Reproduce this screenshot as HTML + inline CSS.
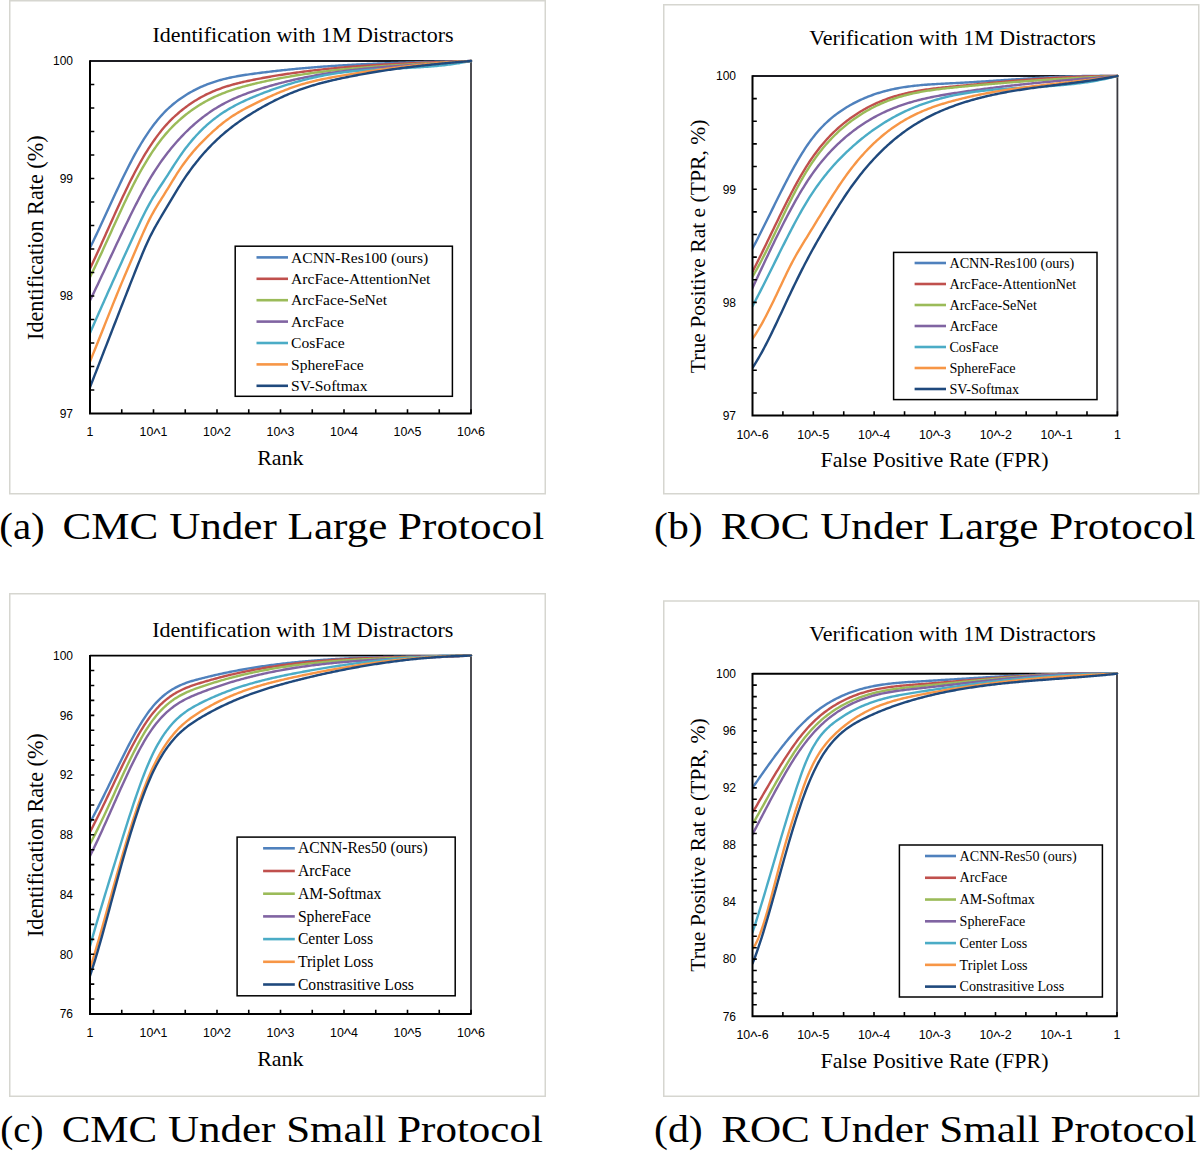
<!DOCTYPE html><html><head><meta charset="utf-8"><style>html,body{margin:0;padding:0;background:#fff;}svg{display:block;}</style></head><body>
<svg width="1200" height="1151" viewBox="0 0 1200 1151">
<rect width="1200" height="1151" fill="#fff"/>
<rect x="9.75" y="0.75" width="535.5" height="493" fill="none" stroke="#d6d6d0" stroke-width="1.5"/>
<text x="152.4" y="42.1" font-family='"Liberation Serif", serif' font-size="22" fill="#000">Identification with 1M Distractors</text>
<path d="M90 61H471" fill="none" stroke="#1c1c22" stroke-width="1.9"/>
<path d="M471 61V413.5" fill="none" stroke="#3a3a40" stroke-width="1.8"/>
<clipPath id="clipa"><rect x="90" y="59" width="383" height="354.5"/></clipPath>
<g clip-path="url(#clipa)" fill="none" stroke-width="2.4" stroke-linejoin="round" stroke-linecap="round">
<path d="M90,247.81 91.5,244.75 93,241.66 94.5,238.54 96,235.39 97.5,232.21 99,229.01 100.5,225.8 102,222.57 103.5,219.32 105,216.07 106.5,212.81 108,209.55 109.5,206.29 111,203.04 112.5,199.79 114,196.55 115.5,193.33 117,190.13 118.5,186.94 120,183.78 121.5,180.64 123,177.54 124.5,174.47 126,171.43 127.5,168.44 129,165.48 130.5,162.58 132,159.72 133.5,156.92 135,154.17 136.5,151.48 138,148.85 139.5,146.28 141,143.76 142.5,141.31 144,138.92 145.5,136.59 147,134.31 148.5,132.1 150,129.94 151.5,127.85 153,125.81 154.5,123.84 156,121.92 157.5,120.06 159,118.27 160.5,116.53 162,114.86 163.5,113.24 165,111.69 166.5,110.19 168,108.75 169.5,107.37 171,106.04 172.5,104.76 174,103.52 175.5,102.33 177,101.17 178.5,100.06 180,98.98 181.5,97.93 183,96.91 184.5,95.93 186,94.97 187.5,94.05 189,93.15 190.5,92.29 192,91.45 193.5,90.63 195,89.85 196.5,89.09 198,88.35 199.5,87.65 201,86.96 202.5,86.3 204,85.66 205.5,85.05 207,84.45 208.5,83.88 210,83.33 211.5,82.8 213,82.29 214.5,81.8 216,81.32 217.5,80.87 219,80.43 220.5,80.01 222,79.6 223.5,79.21 225,78.84 226.5,78.48 228,78.13 229.5,77.79 231,77.47 232.5,77.16 234,76.86 235.5,76.58 237,76.3 238.5,76.03 240,75.77 241.5,75.52 243,75.28 244.5,75.04 246,74.81 247.5,74.59 249,74.37 250.5,74.16 252,73.95 253.5,73.74 255,73.54 256.5,73.34 258,73.14 259.5,72.95 261,72.75 262.5,72.56 264,72.37 265.5,72.19 267,72 268.5,71.82 270,71.64 271.5,71.47 273,71.29 274.5,71.12 276,70.95 277.5,70.78 279,70.62 280.5,70.45 282,70.29 283.5,70.13 285,69.97 286.5,69.82 288,69.67 289.5,69.52 291,69.37 292.5,69.22 294,69.07 295.5,68.93 297,68.79 298.5,68.65 300,68.51 301.5,68.38 303,68.24 304.5,68.11 306,67.98 307.5,67.85 309,67.73 310.5,67.6 312,67.48 313.5,67.36 315,67.24 316.5,67.12 318,67.01 319.5,66.89 321,66.78 322.5,66.67 324,66.56 325.5,66.45 327,66.35 328.5,66.24 330,66.14 331.5,66.04 333,65.94 334.5,65.84 336,65.74 337.5,65.65 339,65.55 340.5,65.46 342,65.37 343.5,65.28 345,65.19 346.5,65.11 348,65.02 349.5,64.94 351,64.85 352.5,64.77 354,64.69 355.5,64.61 357,64.54 358.5,64.46 360,64.39 361.5,64.31 363,64.24 364.5,64.17 366,64.1 367.5,64.03 369,63.96 370.5,63.89 372,63.83 373.5,63.76 375,63.7 376.5,63.64 378,63.57 379.5,63.51 381,63.45 382.5,63.39 384,63.34 385.5,63.28 387,63.22 388.5,63.17 390,63.11 391.5,63.06 393,63.01 394.5,62.96 396,62.9 397.5,62.85 399,62.81 400.5,62.76 402,62.71 403.5,62.66 405,62.62 406.5,62.57 408,62.52 409.5,62.48 411,62.44 412.5,62.39 414,62.35 415.5,62.31 417,62.27 418.5,62.23 420,62.18 421.5,62.15 423,62.11 424.5,62.07 426,62.03 427.5,61.99 429,61.95 430.5,61.92 432,61.88 433.5,61.84 435,61.81 436.5,61.77 438,61.73 439.5,61.7 441,61.66 442.5,61.63 444,61.6 445.5,61.56 447,61.53 448.5,61.49 450,61.46 451.5,61.43 453,61.39 454.5,61.36 456,61.33 457.5,61.3 459,61.26 460.5,61.23 462,61.2 463.5,61.16 465,61.13 466.5,61.1 468,61.07 469.5,61.03 471,61" stroke="#4F81BD"/>
<path d="M90,268.61 91.5,265.44 93,262.25 94.5,259.02 96,255.77 97.5,252.5 99,249.21 100.5,245.9 102,242.58 103.5,239.24 105,235.9 106.5,232.56 108,229.21 109.5,225.87 111,222.53 112.5,219.19 114,215.87 115.5,212.56 117,209.27 118.5,205.99 120,202.74 121.5,199.51 123,196.31 124.5,193.14 126,190 127.5,186.9 129,183.84 130.5,180.82 132,177.85 133.5,174.93 135,172.06 136.5,169.24 138,166.48 139.5,163.77 141,161.12 142.5,158.52 144,155.98 145.5,153.49 147,151.06 148.5,148.68 150,146.37 151.5,144.1 153,141.9 154.5,139.75 156,137.66 157.5,135.63 159,133.65 160.5,131.73 162,129.87 163.5,128.07 165,126.32 166.5,124.64 168,123.01 169.5,121.43 171,119.91 172.5,118.43 174,117 175.5,115.62 177,114.27 178.5,112.97 180,111.7 181.5,110.47 183,109.27 184.5,108.11 186,106.97 187.5,105.87 189,104.8 190.5,103.76 192,102.76 193.5,101.78 195,100.83 196.5,99.91 198,99.01 199.5,98.15 201,97.31 202.5,96.49 204,95.7 205.5,94.94 207,94.2 208.5,93.48 210,92.79 211.5,92.12 213,91.47 214.5,90.84 216,90.23 217.5,89.64 219,89.07 220.5,88.51 222,87.98 223.5,87.46 225,86.96 226.5,86.48 228,86.01 229.5,85.55 231,85.11 232.5,84.69 234,84.27 235.5,83.87 237,83.48 238.5,83.1 240,82.73 241.5,82.38 243,82.03 244.5,81.69 246,81.35 247.5,81.03 249,80.71 250.5,80.4 252,80.09 253.5,79.79 255,79.49 256.5,79.19 258,78.9 259.5,78.62 261,78.33 262.5,78.05 264,77.77 265.5,77.5 267,77.23 268.5,76.97 270,76.7 271.5,76.44 273,76.19 274.5,75.93 276,75.68 277.5,75.44 279,75.19 280.5,74.95 282,74.72 283.5,74.48 285,74.25 286.5,74.03 288,73.8 289.5,73.58 291,73.36 292.5,73.15 294,72.93 295.5,72.73 297,72.52 298.5,72.32 300,72.11 301.5,71.92 303,71.72 304.5,71.53 306,71.34 307.5,71.15 309,70.97 310.5,70.79 312,70.61 313.5,70.43 315,70.26 316.5,70.09 318,69.92 319.5,69.75 321,69.59 322.5,69.43 324,69.27 325.5,69.11 327,68.96 328.5,68.8 330,68.65 331.5,68.51 333,68.36 334.5,68.22 336,68.08 337.5,67.94 339,67.8 340.5,67.67 342,67.54 343.5,67.41 345,67.28 346.5,67.15 348,67.03 349.5,66.91 351,66.79 352.5,66.67 354,66.55 355.5,66.44 357,66.32 358.5,66.21 360,66.1 361.5,66 363,65.89 364.5,65.79 366,65.68 367.5,65.58 369,65.48 370.5,65.39 372,65.29 373.5,65.2 375,65.1 376.5,65.01 378,64.92 379.5,64.83 381,64.75 382.5,64.66 384,64.57 385.5,64.49 387,64.41 388.5,64.33 390,64.25 391.5,64.17 393,64.09 394.5,64.02 396,63.94 397.5,63.87 399,63.79 400.5,63.72 402,63.65 403.5,63.58 405,63.51 406.5,63.45 408,63.38 409.5,63.31 411,63.25 412.5,63.18 414,63.12 415.5,63.05 417,62.99 418.5,62.93 420,62.87 421.5,62.81 423,62.75 424.5,62.69 426,62.63 427.5,62.57 429,62.52 430.5,62.46 432,62.4 433.5,62.35 435,62.29 436.5,62.24 438,62.18 439.5,62.13 441,62.07 442.5,62.02 444,61.96 445.5,61.91 447,61.86 448.5,61.8 450,61.75 451.5,61.7 453,61.64 454.5,61.59 456,61.54 457.5,61.48 459,61.43 460.5,61.38 462,61.33 463.5,61.27 465,61.22 466.5,61.17 468,61.11 469.5,61.06 471,61" stroke="#C0504D"/>
<path d="M90,277.11 91.5,274.07 93,270.99 94.5,267.88 96,264.73 97.5,261.56 99,258.35 100.5,255.13 102,251.88 103.5,248.61 105,245.33 106.5,242.04 108,238.74 109.5,235.44 111,232.13 112.5,228.83 114,225.53 115.5,222.24 117,218.96 118.5,215.69 120,212.44 121.5,209.21 123,206.01 124.5,202.83 126,199.68 127.5,196.57 129,193.49 130.5,190.45 132,187.45 133.5,184.5 135,181.6 136.5,178.75 138,175.96 139.5,173.21 141,170.52 142.5,167.88 144,165.3 145.5,162.77 147,160.29 148.5,157.87 150,155.5 151.5,153.18 153,150.93 154.5,148.72 156,146.58 157.5,144.49 159,142.45 160.5,140.47 162,138.55 163.5,136.69 165,134.88 166.5,133.13 168,131.44 169.5,129.79 171,128.2 172.5,126.66 174,125.16 175.5,123.71 177,122.29 178.5,120.92 180,119.58 181.5,118.28 183,117 184.5,115.76 186,114.56 187.5,113.38 189,112.24 190.5,111.12 192,110.04 193.5,108.98 195,107.96 196.5,106.96 198,105.99 199.5,105.04 201,104.12 202.5,103.23 204,102.36 205.5,101.52 207,100.7 208.5,99.9 210,99.13 211.5,98.38 213,97.65 214.5,96.94 216,96.25 217.5,95.58 219,94.94 220.5,94.31 222,93.69 223.5,93.1 225,92.52 226.5,91.96 228,91.41 229.5,90.88 231,90.37 232.5,89.87 234,89.38 235.5,88.9 237,88.44 238.5,87.99 240,87.55 241.5,87.12 243,86.7 244.5,86.29 246,85.89 247.5,85.49 249,85.11 250.5,84.73 252,84.36 253.5,83.99 255,83.63 256.5,83.27 258,82.92 259.5,82.57 261,82.23 262.5,81.89 264,81.56 265.5,81.23 267,80.91 268.5,80.59 270,80.27 271.5,79.96 273,79.66 274.5,79.35 276,79.06 277.5,78.76 279,78.47 280.5,78.19 282,77.9 283.5,77.63 285,77.35 286.5,77.08 288,76.82 289.5,76.56 291,76.3 292.5,76.04 294,75.79 295.5,75.55 297,75.3 298.5,75.06 300,74.83 301.5,74.59 303,74.36 304.5,74.14 306,73.92 307.5,73.7 309,73.48 310.5,73.27 312,73.06 313.5,72.86 315,72.65 316.5,72.45 318,72.26 319.5,72.06 321,71.87 322.5,71.69 324,71.5 325.5,71.32 327,71.14 328.5,70.96 330,70.79 331.5,70.62 333,70.45 334.5,70.29 336,70.12 337.5,69.96 339,69.81 340.5,69.65 342,69.5 343.5,69.35 345,69.2 346.5,69.05 348,68.91 349.5,68.77 351,68.63 352.5,68.49 354,68.36 355.5,68.23 357,68.1 358.5,67.97 360,67.84 361.5,67.72 363,67.59 364.5,67.47 366,67.35 367.5,67.24 369,67.12 370.5,67 372,66.89 373.5,66.78 375,66.67 376.5,66.56 378,66.46 379.5,66.35 381,66.25 382.5,66.15 384,66.04 385.5,65.94 387,65.85 388.5,65.75 390,65.65 391.5,65.56 393,65.46 394.5,65.37 396,65.28 397.5,65.19 399,65.1 400.5,65.01 402,64.92 403.5,64.83 405,64.74 406.5,64.66 408,64.57 409.5,64.48 411,64.4 412.5,64.32 414,64.23 415.5,64.15 417,64.07 418.5,63.98 420,63.9 421.5,63.82 423,63.74 424.5,63.65 426,63.57 427.5,63.49 429,63.41 430.5,63.33 432,63.25 433.5,63.17 435,63.09 436.5,63 438,62.92 439.5,62.84 441,62.76 442.5,62.68 444,62.59 445.5,62.51 447,62.43 448.5,62.34 450,62.26 451.5,62.17 453,62.09 454.5,62 456,61.92 457.5,61.83 459,61.74 460.5,61.65 462,61.56 463.5,61.47 465,61.38 466.5,61.29 468,61.19 469.5,61.1 471,61" stroke="#9BBB59"/>
<path d="M90,300.6 91.5,297.49 93,294.36 94.5,291.22 96,288.06 97.5,284.9 99,281.72 100.5,278.53 102,275.34 103.5,272.14 105,268.94 106.5,265.73 108,262.53 109.5,259.32 111,256.12 112.5,252.91 114,249.72 115.5,246.53 117,243.35 118.5,240.17 120,237.01 121.5,233.86 123,230.73 124.5,227.61 126,224.5 127.5,221.42 129,218.35 130.5,215.31 132,212.29 133.5,209.29 135,206.32 136.5,203.38 138,200.46 139.5,197.59 141,194.75 142.5,191.94 144,189.19 145.5,186.48 147,183.82 148.5,181.21 150,178.66 151.5,176.18 153,173.75 154.5,171.37 156,169.05 157.5,166.79 159,164.58 160.5,162.41 162,160.3 163.5,158.23 165,156.21 166.5,154.23 168,152.3 169.5,150.4 171,148.55 172.5,146.74 174,144.96 175.5,143.22 177,141.52 178.5,139.85 180,138.22 181.5,136.62 183,135.06 184.5,133.52 186,132.02 187.5,130.55 189,129.11 190.5,127.71 192,126.33 193.5,124.99 195,123.67 196.5,122.38 198,121.13 199.5,119.9 201,118.7 202.5,117.52 204,116.38 205.5,115.26 207,114.17 208.5,113.11 210,112.07 211.5,111.05 213,110.07 214.5,109.1 216,108.16 217.5,107.25 219,106.36 220.5,105.49 222,104.65 223.5,103.83 225,103.03 226.5,102.25 228,101.49 229.5,100.75 231,100.04 232.5,99.34 234,98.66 235.5,97.99 237,97.35 238.5,96.72 240,96.1 241.5,95.5 243,94.91 244.5,94.34 246,93.77 247.5,93.22 249,92.68 250.5,92.15 252,91.63 253.5,91.12 255,90.61 256.5,90.12 258,89.63 259.5,89.14 261,88.66 262.5,88.19 264,87.73 265.5,87.27 267,86.82 268.5,86.38 270,85.94 271.5,85.51 273,85.09 274.5,84.67 276,84.26 277.5,83.85 279,83.45 280.5,83.06 282,82.67 283.5,82.29 285,81.91 286.5,81.54 288,81.18 289.5,80.82 291,80.47 292.5,80.12 294,79.78 295.5,79.44 297,79.11 298.5,78.78 300,78.46 301.5,78.15 303,77.84 304.5,77.53 306,77.23 307.5,76.94 309,76.65 310.5,76.36 312,76.08 313.5,75.81 315,75.53 316.5,75.27 318,75.01 319.5,74.75 321,74.49 322.5,74.25 324,74 325.5,73.76 327,73.52 328.5,73.29 330,73.06 331.5,72.84 333,72.62 334.5,72.4 336,72.19 337.5,71.98 339,71.78 340.5,71.58 342,71.38 343.5,71.18 345,70.99 346.5,70.81 348,70.62 349.5,70.44 351,70.26 352.5,70.09 354,69.92 355.5,69.75 357,69.58 358.5,69.42 360,69.26 361.5,69.1 363,68.95 364.5,68.8 366,68.65 367.5,68.5 369,68.36 370.5,68.22 372,68.08 373.5,67.94 375,67.8 376.5,67.67 378,67.54 379.5,67.41 381,67.28 382.5,67.16 384,67.04 385.5,66.92 387,66.8 388.5,66.68 390,66.56 391.5,66.45 393,66.34 394.5,66.22 396,66.11 397.5,66 399,65.9 400.5,65.79 402,65.69 403.5,65.58 405,65.48 406.5,65.38 408,65.27 409.5,65.17 411,65.07 412.5,64.97 414,64.88 415.5,64.78 417,64.68 418.5,64.58 420,64.49 421.5,64.39 423,64.29 424.5,64.2 426,64.1 427.5,64.01 429,63.91 430.5,63.82 432,63.72 433.5,63.63 435,63.53 436.5,63.43 438,63.34 439.5,63.24 441,63.14 442.5,63.05 444,62.95 445.5,62.85 447,62.75 448.5,62.65 450,62.55 451.5,62.44 453,62.34 454.5,62.24 456,62.13 457.5,62.02 459,61.92 460.5,61.81 462,61.7 463.5,61.59 465,61.47 466.5,61.36 468,61.24 469.5,61.13 471,61.01" stroke="#8064A2"/>
<path d="M90,333 91.5,329.59 93,326.18 94.5,322.77 96,319.37 97.5,315.97 99,312.58 100.5,309.2 102,305.81 103.5,302.44 105,299.07 106.5,295.71 108,292.35 109.5,289 111,285.65 112.5,282.31 114,278.98 115.5,275.65 117,272.33 118.5,269.02 120,265.71 121.5,262.41 123,259.12 124.5,255.84 126,252.56 127.5,249.29 129,246.03 130.5,242.78 132,239.53 133.5,236.3 135,233.07 136.5,229.85 138,226.65 139.5,223.48 141,220.34 142.5,217.26 144,214.22 145.5,211.26 147,208.37 148.5,205.56 150,202.85 151.5,200.24 153,197.72 154.5,195.27 156,192.89 157.5,190.56 159,188.27 160.5,186 162,183.74 163.5,181.47 165,179.19 166.5,176.88 168,174.55 169.5,172.2 171,169.85 172.5,167.5 174,165.16 175.5,162.85 177,160.56 178.5,158.31 180,156.11 181.5,153.96 183,151.87 184.5,149.83 186,147.84 187.5,145.9 189,144.01 190.5,142.18 192,140.39 193.5,138.65 195,136.95 196.5,135.31 198,133.7 199.5,132.14 201,130.63 202.5,129.15 204,127.71 205.5,126.32 207,124.96 208.5,123.65 210,122.37 211.5,121.12 213,119.91 214.5,118.73 216,117.59 217.5,116.48 219,115.4 220.5,114.35 222,113.33 223.5,112.34 225,111.37 226.5,110.44 228,109.52 229.5,108.63 231,107.77 232.5,106.93 234,106.11 235.5,105.3 237,104.52 238.5,103.76 240,103.02 241.5,102.29 243,101.58 244.5,100.88 246,100.19 247.5,99.52 249,98.86 250.5,98.21 252,97.58 253.5,96.95 255,96.32 256.5,95.71 258,95.1 259.5,94.5 261,93.91 262.5,93.32 264,92.74 265.5,92.17 267,91.61 268.5,91.05 270,90.5 271.5,89.95 273,89.42 274.5,88.89 276,88.36 277.5,87.85 279,87.34 280.5,86.84 282,86.35 283.5,85.86 285,85.38 286.5,84.91 288,84.44 289.5,83.98 291,83.53 292.5,83.09 294,82.65 295.5,82.22 297,81.8 298.5,81.38 300,80.97 301.5,80.57 303,80.18 304.5,79.79 306,79.42 307.5,79.04 309,78.68 310.5,78.32 312,77.97 313.5,77.63 315,77.29 316.5,76.97 318,76.64 319.5,76.33 321,76.03 322.5,75.73 324,75.43 325.5,75.15 327,74.87 328.5,74.6 330,74.34 331.5,74.09 333,73.84 334.5,73.6 336,73.37 337.5,73.14 339,72.92 340.5,72.71 342,72.51 343.5,72.32 345,72.13 346.5,71.94 348,71.77 349.5,71.6 351,71.44 352.5,71.28 354,71.13 355.5,70.98 357,70.84 358.5,70.71 360,70.58 361.5,70.45 363,70.33 364.5,70.21 366,70.1 367.5,69.99 369,69.89 370.5,69.79 372,69.69 373.5,69.6 375,69.51 376.5,69.42 378,69.33 379.5,69.25 381,69.17 382.5,69.09 384,69.01 385.5,68.94 387,68.86 388.5,68.79 390,68.72 391.5,68.65 393,68.58 394.5,68.51 396,68.44 397.5,68.37 399,68.3 400.5,68.23 402,68.16 403.5,68.09 405,68.02 406.5,67.95 408,67.87 409.5,67.8 411,67.72 412.5,67.64 414,67.56 415.5,67.48 417,67.39 418.5,67.3 420,67.21 421.5,67.12 423,67.02 424.5,66.92 426,66.81 427.5,66.7 429,66.59 430.5,66.47 432,66.35 433.5,66.23 435,66.1 436.5,65.96 438,65.82 439.5,65.67 441,65.52 442.5,65.36 444,65.2 445.5,65.03 447,64.85 448.5,64.67 450,64.48 451.5,64.28 453,64.08 454.5,63.87 456,63.65 457.5,63.42 459,63.19 460.5,62.94 462,62.69 463.5,62.43 465,62.16 466.5,61.89 468,61.6 469.5,61.3 471,61" stroke="#4BACC6"/>
<path d="M90,361.5 91.5,357.85 93,354.17 94.5,350.47 96,346.74 97.5,343 99,339.25 100.5,335.49 102,331.71 103.5,327.94 105,324.16 106.5,320.39 108,316.61 109.5,312.85 111,309.1 112.5,305.36 114,301.64 115.5,297.94 117,294.27 118.5,290.62 120,287 121.5,283.41 123,279.85 124.5,276.31 126,272.79 127.5,269.29 129,265.79 130.5,262.3 132,258.81 133.5,255.31 135,251.8 136.5,248.29 138,244.77 139.5,241.26 141,237.79 142.5,234.36 144,230.99 145.5,227.7 147,224.49 148.5,221.39 150,218.41 151.5,215.55 153,212.81 154.5,210.18 156,207.62 157.5,205.14 159,202.7 160.5,200.3 162,197.92 163.5,195.54 165,193.15 166.5,190.73 168,188.29 169.5,185.83 171,183.38 172.5,180.93 174,178.5 175.5,176.09 177,173.72 178.5,171.4 180,169.13 181.5,166.92 183,164.78 184.5,162.7 186,160.67 187.5,158.7 189,156.79 190.5,154.92 192,153.11 193.5,151.34 195,149.61 196.5,147.92 198,146.28 199.5,144.67 201,143.1 202.5,141.55 204,140.04 205.5,138.56 207,137.1 208.5,135.67 210,134.25 211.5,132.86 213,131.48 214.5,130.13 216,128.8 217.5,127.49 219,126.21 220.5,124.96 222,123.74 223.5,122.55 225,121.39 226.5,120.27 228,119.18 229.5,118.12 231,117.1 232.5,116.1 234,115.13 235.5,114.18 237,113.26 238.5,112.36 240,111.49 241.5,110.63 243,109.79 244.5,108.97 246,108.17 247.5,107.37 249,106.6 250.5,105.83 252,105.07 253.5,104.32 255,103.58 256.5,102.84 258,102.11 259.5,101.38 261,100.66 262.5,99.95 264,99.24 265.5,98.54 267,97.84 268.5,97.16 270,96.48 271.5,95.81 273,95.14 274.5,94.49 276,93.84 277.5,93.21 279,92.58 280.5,91.96 282,91.35 283.5,90.76 285,90.17 286.5,89.59 288,89.03 289.5,88.47 291,87.93 292.5,87.39 294,86.87 295.5,86.37 297,85.87 298.5,85.39 300,84.92 301.5,84.46 303,84.02 304.5,83.58 306,83.16 307.5,82.76 309,82.36 310.5,81.97 312,81.6 313.5,81.23 315,80.87 316.5,80.53 318,80.19 319.5,79.86 321,79.53 322.5,79.22 324,78.91 325.5,78.61 327,78.31 328.5,78.02 330,77.73 331.5,77.45 333,77.17 334.5,76.9 336,76.63 337.5,76.37 339,76.1 340.5,75.84 342,75.58 343.5,75.32 345,75.07 346.5,74.81 348,74.56 349.5,74.31 351,74.07 352.5,73.82 354,73.58 355.5,73.33 357,73.09 358.5,72.86 360,72.62 361.5,72.39 363,72.16 364.5,71.93 366,71.7 367.5,71.47 369,71.25 370.5,71.03 372,70.81 373.5,70.59 375,70.37 376.5,70.16 378,69.95 379.5,69.74 381,69.53 382.5,69.32 384,69.12 385.5,68.92 387,68.72 388.5,68.52 390,68.33 391.5,68.14 393,67.94 394.5,67.76 396,67.57 397.5,67.38 399,67.2 400.5,67.02 402,66.84 403.5,66.67 405,66.49 406.5,66.32 408,66.15 409.5,65.98 411,65.82 412.5,65.65 414,65.49 415.5,65.33 417,65.18 418.5,65.02 420,64.87 421.5,64.72 423,64.57 424.5,64.42 426,64.28 427.5,64.14 429,64 430.5,63.86 432,63.73 433.5,63.59 435,63.46 436.5,63.33 438,63.21 439.5,63.08 441,62.96 442.5,62.84 444,62.73 445.5,62.61 447,62.5 448.5,62.39 450,62.28 451.5,62.17 453,62.07 454.5,61.97 456,61.87 457.5,61.77 459,61.68 460.5,61.59 462,61.5 463.5,61.41 465,61.32 466.5,61.24 468,61.16 469.5,61.08 471,61" stroke="#F79646"/>
<path d="M90,387.2 91.5,383.37 93,379.53 94.5,375.68 96,371.83 97.5,367.98 99,364.13 100.5,360.27 102,356.41 103.5,352.55 105,348.69 106.5,344.83 108,340.97 109.5,337.11 111,333.25 112.5,329.39 114,325.54 115.5,321.69 117,317.84 118.5,313.99 120,310.15 121.5,306.31 123,302.48 124.5,298.65 126,294.83 127.5,291.01 129,287.2 130.5,283.4 132,279.61 133.5,275.82 135,272.05 136.5,268.28 138,264.54 139.5,260.83 141,257.17 142.5,253.56 144,250.03 145.5,246.58 147,243.22 148.5,239.97 150,236.84 151.5,233.84 153,230.95 154.5,228.17 156,225.47 157.5,222.84 159,220.27 160.5,217.74 162,215.24 163.5,212.74 165,210.24 166.5,207.72 168,205.19 169.5,202.66 171,200.12 172.5,197.59 174,195.08 175.5,192.59 177,190.12 178.5,187.69 180,185.3 181.5,182.95 183,180.66 184.5,178.41 186,176.2 187.5,174.04 189,171.93 190.5,169.86 192,167.83 193.5,165.84 195,163.9 196.5,161.99 198,160.13 199.5,158.3 201,156.52 202.5,154.77 204,153.06 205.5,151.38 207,149.74 208.5,148.13 210,146.56 211.5,145.02 213,143.51 214.5,142.04 216,140.6 217.5,139.18 219,137.8 220.5,136.44 222,135.11 223.5,133.81 225,132.54 226.5,131.29 228,130.06 229.5,128.86 231,127.69 232.5,126.53 234,125.4 235.5,124.29 237,123.2 238.5,122.13 240,121.08 241.5,120.04 243,119.03 244.5,118.03 246,117.05 247.5,116.08 249,115.12 250.5,114.18 252,113.26 253.5,112.34 255,111.44 256.5,110.54 258,109.66 259.5,108.79 261,107.93 262.5,107.08 264,106.24 265.5,105.42 267,104.6 268.5,103.8 270,103 271.5,102.22 273,101.45 274.5,100.69 276,99.95 277.5,99.21 279,98.49 280.5,97.78 282,97.08 283.5,96.39 285,95.72 286.5,95.05 288,94.4 289.5,93.76 291,93.14 292.5,92.52 294,91.92 295.5,91.33 297,90.76 298.5,90.19 300,89.64 301.5,89.11 303,88.58 304.5,88.07 306,87.57 307.5,87.08 309,86.6 310.5,86.13 312,85.67 313.5,85.23 315,84.79 316.5,84.36 318,83.94 319.5,83.53 321,83.13 322.5,82.74 324,82.35 325.5,81.98 327,81.6 328.5,81.24 330,80.88 331.5,80.53 333,80.18 334.5,79.84 336,79.5 337.5,79.17 339,78.85 340.5,78.52 342,78.2 343.5,77.89 345,77.57 346.5,77.26 348,76.96 349.5,76.66 351,76.36 352.5,76.06 354,75.77 355.5,75.48 357,75.2 358.5,74.92 360,74.64 361.5,74.36 363,74.09 364.5,73.82 366,73.56 367.5,73.29 369,73.03 370.5,72.78 372,72.53 373.5,72.28 375,72.03 376.5,71.78 378,71.54 379.5,71.3 381,71.07 382.5,70.84 384,70.61 385.5,70.38 387,70.16 388.5,69.93 390,69.71 391.5,69.5 393,69.28 394.5,69.07 396,68.87 397.5,68.66 399,68.46 400.5,68.25 402,68.06 403.5,67.86 405,67.67 406.5,67.47 408,67.29 409.5,67.1 411,66.91 412.5,66.73 414,66.55 415.5,66.37 417,66.2 418.5,66.02 420,65.85 421.5,65.68 423,65.51 424.5,65.35 426,65.18 427.5,65.02 429,64.86 430.5,64.7 432,64.55 433.5,64.39 435,64.24 436.5,64.09 438,63.94 439.5,63.79 441,63.64 442.5,63.5 444,63.35 445.5,63.21 447,63.07 448.5,62.93 450,62.8 451.5,62.66 453,62.52 454.5,62.39 456,62.26 457.5,62.13 459,62 460.5,61.87 462,61.74 463.5,61.62 465,61.49 466.5,61.37 468,61.25 469.5,61.13 471,61" stroke="#1F497D"/>
</g>
<path d="M90 60.3V413.5H471.7" fill="none" stroke="#000" stroke-width="2"/>
<path d="M90 390h4.3M90 366.5h4.3M90 343h4.3M90 319.5h4.3M90 296h4.3M90 272.5h4.3M90 249h4.3M90 225.5h4.3M90 202h4.3M90 178.5h4.3M90 155h4.3M90 131.5h4.3M90 108h4.3M90 84.5h4.3M121.75 413.5v-4.3M153.5 413.5v-4.3M185.25 413.5v-4.3M217 413.5v-4.3M248.75 413.5v-4.3M280.5 413.5v-4.3M312.25 413.5v-4.3M344 413.5v-4.3M375.75 413.5v-4.3M407.5 413.5v-4.3M439.25 413.5v-4.3M471 413.5v-4.3" stroke="#000" stroke-width="1.6" fill="none"/>
<text x="73" y="65.3" text-anchor="end" font-family='"Liberation Sans", sans-serif' font-size="12" fill="#000">100</text>
<text x="73" y="182.8" text-anchor="end" font-family='"Liberation Sans", sans-serif' font-size="12" fill="#000">99</text>
<text x="73" y="300.3" text-anchor="end" font-family='"Liberation Sans", sans-serif' font-size="12" fill="#000">98</text>
<text x="73" y="417.8" text-anchor="end" font-family='"Liberation Sans", sans-serif' font-size="12" fill="#000">97</text>
<text x="90" y="436" text-anchor="middle" font-family='"Liberation Sans", sans-serif' font-size="12.4" fill="#000">1</text>
<text x="153.5" y="436" text-anchor="middle" font-family='"Liberation Sans", sans-serif' font-size="12.4" fill="#000">10<tspan font-size="15.5" dy="2.6">^</tspan><tspan dy="-2.6">1</tspan></text>
<text x="217" y="436" text-anchor="middle" font-family='"Liberation Sans", sans-serif' font-size="12.4" fill="#000">10<tspan font-size="15.5" dy="2.6">^</tspan><tspan dy="-2.6">2</tspan></text>
<text x="280.5" y="436" text-anchor="middle" font-family='"Liberation Sans", sans-serif' font-size="12.4" fill="#000">10<tspan font-size="15.5" dy="2.6">^</tspan><tspan dy="-2.6">3</tspan></text>
<text x="344" y="436" text-anchor="middle" font-family='"Liberation Sans", sans-serif' font-size="12.4" fill="#000">10<tspan font-size="15.5" dy="2.6">^</tspan><tspan dy="-2.6">4</tspan></text>
<text x="407.5" y="436" text-anchor="middle" font-family='"Liberation Sans", sans-serif' font-size="12.4" fill="#000">10<tspan font-size="15.5" dy="2.6">^</tspan><tspan dy="-2.6">5</tspan></text>
<text x="471" y="436" text-anchor="middle" font-family='"Liberation Sans", sans-serif' font-size="12.4" fill="#000">10<tspan font-size="15.5" dy="2.6">^</tspan><tspan dy="-2.6">6</tspan></text>
<text x="280.4" y="464.75" text-anchor="middle" font-family='"Liberation Serif", serif' font-size="22" fill="#000">Rank</text>
<text transform="translate(42.7 237.7) rotate(-90)" x="0" y="0" text-anchor="middle" font-family='"Liberation Serif", serif' font-size="22.2" fill="#000">Identification Rate (%)</text>
<rect x="235.2" y="246.2" width="217.2" height="150.1" fill="#fff" stroke="#000" stroke-width="1.5"/>
<path d="M256.5 257.4H288" stroke="#4F81BD" stroke-width="2.6" stroke-linecap="butt"/>
<text x="291" y="262.55" font-family='"Liberation Serif", serif' font-size="15.6" fill="#000">ACNN-Res100 (ours)</text>
<path d="M256.5 278.8H288" stroke="#C0504D" stroke-width="2.6" stroke-linecap="butt"/>
<text x="291" y="283.95" font-family='"Liberation Serif", serif' font-size="15.6" fill="#000">ArcFace-AttentionNet</text>
<path d="M256.5 300.2H288" stroke="#9BBB59" stroke-width="2.6" stroke-linecap="butt"/>
<text x="291" y="305.35" font-family='"Liberation Serif", serif' font-size="15.6" fill="#000">ArcFace-SeNet</text>
<path d="M256.5 321.6H288" stroke="#8064A2" stroke-width="2.6" stroke-linecap="butt"/>
<text x="291" y="326.75" font-family='"Liberation Serif", serif' font-size="15.6" fill="#000">ArcFace</text>
<path d="M256.5 343H288" stroke="#4BACC6" stroke-width="2.6" stroke-linecap="butt"/>
<text x="291" y="348.15" font-family='"Liberation Serif", serif' font-size="15.6" fill="#000">CosFace</text>
<path d="M256.5 364.4H288" stroke="#F79646" stroke-width="2.6" stroke-linecap="butt"/>
<text x="291" y="369.55" font-family='"Liberation Serif", serif' font-size="15.6" fill="#000">SphereFace</text>
<path d="M256.5 385.8H288" stroke="#1F497D" stroke-width="2.6" stroke-linecap="butt"/>
<text x="291" y="390.95" font-family='"Liberation Serif", serif' font-size="15.6" fill="#000">SV-Softmax</text>
<text transform="translate(-0.78 539.3) scale(1.0664 1)" x="0" y="0" font-family='"Liberation Serif", serif' font-size="38.5" fill="#000">(a)</text>
<text transform="translate(62.55 539.3) scale(1.1196 1)" x="0" y="0" font-family='"Liberation Serif", serif' font-size="38.5" fill="#000">CMC Under Large Protocol</text>
<rect x="663.75" y="4.75" width="535" height="489" fill="none" stroke="#d6d6d0" stroke-width="1.5"/>
<text x="809.3" y="44.7" font-family='"Liberation Serif", serif' font-size="22" fill="#000">Verification with 1M Distractors</text>
<path d="M752.5 76H1117.4" fill="none" stroke="#1c1c22" stroke-width="1.9"/>
<path d="M1117.4 76V415.6" fill="none" stroke="#3a3a40" stroke-width="1.8"/>
<clipPath id="clipb"><rect x="752.5" y="74" width="366.9" height="341.6"/></clipPath>
<g clip-path="url(#clipb)" fill="none" stroke-width="2.4" stroke-linejoin="round" stroke-linecap="round">
<path d="M752.5,248.56 754,245.71 755.5,242.84 757,239.93 758.5,237 760,234.04 761.5,231.07 763,228.07 764.5,225.06 766,222.04 767.5,219.01 769,215.98 770.5,212.94 772,209.9 773.5,206.86 775,203.83 776.5,200.81 778,197.79 779.5,194.79 781,191.81 782.5,188.85 784,185.91 785.5,182.99 787,180.1 788.5,177.25 790,174.43 791.5,171.64 793,168.9 794.5,166.19 796,163.54 797.5,160.93 799,158.37 800.5,155.86 802,153.42 803.5,151.03 805,148.7 806.5,146.44 808,144.25 809.5,142.13 811,140.08 812.5,138.1 814,136.18 815.5,134.33 817,132.53 818.5,130.8 820,129.13 821.5,127.52 823,125.96 824.5,124.45 826,123 827.5,121.59 829,120.24 830.5,118.93 832,117.66 833.5,116.44 835,115.26 836.5,114.12 838,113.02 839.5,111.95 841,110.92 842.5,109.91 844,108.94 845.5,108 847,107.09 848.5,106.2 850,105.33 851.5,104.49 853,103.68 854.5,102.88 856,102.11 857.5,101.36 859,100.63 860.5,99.92 862,99.24 863.5,98.57 865,97.93 866.5,97.3 868,96.7 869.5,96.11 871,95.55 872.5,95 874,94.47 875.5,93.96 877,93.47 878.5,92.99 880,92.53 881.5,92.09 883,91.66 884.5,91.25 886,90.85 887.5,90.47 889,90.11 890.5,89.76 892,89.42 893.5,89.09 895,88.78 896.5,88.48 898,88.2 899.5,87.93 901,87.66 902.5,87.41 904,87.18 905.5,86.95 907,86.73 908.5,86.52 910,86.32 911.5,86.14 913,85.96 914.5,85.78 916,85.62 917.5,85.47 919,85.32 920.5,85.18 922,85.04 923.5,84.92 925,84.8 926.5,84.68 928,84.57 929.5,84.47 931,84.37 932.5,84.27 934,84.18 935.5,84.09 937,84 938.5,83.92 940,83.84 941.5,83.76 943,83.68 944.5,83.61 946,83.54 947.5,83.46 949,83.39 950.5,83.32 952,83.24 953.5,83.17 955,83.09 956.5,83.02 958,82.94 959.5,82.86 961,82.78 962.5,82.7 964,82.61 965.5,82.53 967,82.44 968.5,82.36 970,82.27 971.5,82.18 973,82.09 974.5,82 976,81.91 977.5,81.82 979,81.72 980.5,81.63 982,81.53 983.5,81.44 985,81.34 986.5,81.25 988,81.15 989.5,81.05 991,80.95 992.5,80.86 994,80.76 995.5,80.66 997,80.56 998.5,80.46 1000,80.36 1001.5,80.26 1003,80.16 1004.5,80.06 1006,79.96 1007.5,79.86 1009,79.77 1010.5,79.67 1012,79.57 1013.5,79.47 1015,79.37 1016.5,79.27 1018,79.18 1019.5,79.08 1021,78.98 1022.5,78.89 1024,78.79 1025.5,78.7 1027,78.6 1028.5,78.51 1030,78.42 1031.5,78.33 1033,78.24 1034.5,78.15 1036,78.06 1037.5,77.97 1039,77.88 1040.5,77.8 1042,77.71 1043.5,77.63 1045,77.55 1046.5,77.47 1048,77.39 1049.5,77.31 1051,77.24 1052.5,77.16 1054,77.09 1055.5,77.01 1057,76.94 1058.5,76.88 1060,76.81 1061.5,76.74 1063,76.68 1064.5,76.62 1066,76.56 1067.5,76.5 1069,76.45 1070.5,76.39 1072,76.34 1073.5,76.29 1075,76.25 1076.5,76.2 1078,76.16 1079.5,76.12 1081,76.08 1082.5,76.04 1084,76.01 1085.5,75.98 1087,75.95 1088.5,75.93 1090,75.91 1091.5,75.89 1093,75.87 1094.5,75.85 1096,75.84 1097.5,75.83 1099,75.83 1100.5,75.82 1102,75.82 1103.5,75.83 1105,75.83 1106.5,75.84 1108,75.85 1109.5,75.87 1111,75.89 1112.5,75.91 1114,75.94 1115.5,75.97 1117,76 1117.4,76.01" stroke="#4F81BD"/>
<path d="M752.5,271.76 754,268.81 755.5,265.83 757,262.83 758.5,259.81 760,256.76 761.5,253.71 763,250.63 764.5,247.55 766,244.45 767.5,241.35 769,238.25 770.5,235.14 772,232.03 773.5,228.93 775,225.83 776.5,222.74 778,219.66 779.5,216.59 781,213.54 782.5,210.51 784,207.49 785.5,204.5 787,201.54 788.5,198.6 790,195.69 791.5,192.81 793,189.97 794.5,187.17 796,184.41 797.5,181.69 799,179.01 800.5,176.38 802,173.8 803.5,171.28 805,168.81 806.5,166.39 808,164.04 809.5,161.74 811,159.51 812.5,157.34 814,155.22 815.5,153.17 817,151.16 818.5,149.22 820,147.32 821.5,145.48 823,143.68 824.5,141.94 826,140.25 827.5,138.6 829,136.99 830.5,135.43 832,133.92 833.5,132.44 835,131 836.5,129.61 838,128.25 839.5,126.93 841,125.64 842.5,124.38 844,123.16 845.5,121.97 847,120.81 848.5,119.68 850,118.57 851.5,117.49 853,116.44 854.5,115.42 856,114.42 857.5,113.44 859,112.49 860.5,111.57 862,110.67 863.5,109.79 865,108.94 866.5,108.11 868,107.31 869.5,106.52 871,105.76 872.5,105.02 874,104.3 875.5,103.61 877,102.93 878.5,102.27 880,101.63 881.5,101.02 883,100.42 884.5,99.84 886,99.27 887.5,98.73 889,98.2 890.5,97.69 892,97.2 893.5,96.72 895,96.26 896.5,95.81 898,95.38 899.5,94.97 901,94.56 902.5,94.18 904,93.8 905.5,93.44 907,93.09 908.5,92.76 910,92.43 911.5,92.12 913,91.82 914.5,91.53 916,91.25 917.5,90.98 919,90.71 920.5,90.46 922,90.22 923.5,89.99 925,89.76 926.5,89.54 928,89.33 929.5,89.13 931,88.93 932.5,88.74 934,88.55 935.5,88.37 937,88.2 938.5,88.03 940,87.86 941.5,87.7 943,87.54 944.5,87.38 946,87.23 947.5,87.08 949,86.93 950.5,86.78 952,86.64 953.5,86.49 955,86.35 956.5,86.2 958,86.05 959.5,85.91 961,85.76 962.5,85.62 964,85.47 965.5,85.33 967,85.18 968.5,85.04 970,84.9 971.5,84.75 973,84.61 974.5,84.46 976,84.32 977.5,84.18 979,84.03 980.5,83.89 982,83.75 983.5,83.61 985,83.47 986.5,83.33 988,83.19 989.5,83.05 991,82.91 992.5,82.77 994,82.63 995.5,82.5 997,82.36 998.5,82.22 1000,82.09 1001.5,81.96 1003,81.82 1004.5,81.69 1006,81.56 1007.5,81.43 1009,81.3 1010.5,81.17 1012,81.04 1013.5,80.91 1015,80.79 1016.5,80.66 1018,80.54 1019.5,80.42 1021,80.29 1022.5,80.17 1024,80.05 1025.5,79.94 1027,79.82 1028.5,79.7 1030,79.59 1031.5,79.47 1033,79.36 1034.5,79.25 1036,79.14 1037.5,79.03 1039,78.93 1040.5,78.82 1042,78.72 1043.5,78.62 1045,78.52 1046.5,78.42 1048,78.32 1049.5,78.22 1051,78.13 1052.5,78.04 1054,77.95 1055.5,77.86 1057,77.77 1058.5,77.68 1060,77.6 1061.5,77.52 1063,77.44 1064.5,77.36 1066,77.28 1067.5,77.21 1069,77.14 1070.5,77.07 1072,77 1073.5,76.93 1075,76.87 1076.5,76.8 1078,76.74 1079.5,76.69 1081,76.63 1082.5,76.58 1084,76.52 1085.5,76.47 1087,76.43 1088.5,76.38 1090,76.34 1091.5,76.3 1093,76.26 1094.5,76.23 1096,76.19 1097.5,76.16 1099,76.14 1100.5,76.11 1102,76.09 1103.5,76.07 1105,76.05 1106.5,76.03 1108,76.02 1109.5,76.01 1111,76 1112.5,76 1114,76 1115.5,76 1117,76 1117.4,76" stroke="#C0504D"/>
<path d="M752.5,276.64 754,274.11 755.5,271.51 757,268.85 758.5,266.11 760,263.31 761.5,260.46 763,257.55 764.5,254.6 766,251.6 767.5,248.57 769,245.5 770.5,242.4 772,239.28 773.5,236.14 775,232.99 776.5,229.83 778,226.66 779.5,223.5 781,220.33 782.5,217.18 784,214.04 785.5,210.93 787,207.83 788.5,204.77 790,201.73 791.5,198.74 793,195.78 794.5,192.88 796,190.02 797.5,187.21 799,184.45 800.5,181.74 802,179.09 803.5,176.49 805,173.95 806.5,171.47 808,169.05 809.5,166.69 811,164.4 812.5,162.16 814,159.99 815.5,157.87 817,155.81 818.5,153.8 820,151.85 821.5,149.95 823,148.1 824.5,146.3 826,144.55 827.5,142.84 829,141.18 830.5,139.57 832,138 833.5,136.47 835,134.98 836.5,133.53 838,132.12 839.5,130.74 841,129.4 842.5,128.1 844,126.82 845.5,125.58 847,124.37 848.5,123.18 850,122.03 851.5,120.9 853,119.8 854.5,118.72 856,117.67 857.5,116.65 859,115.65 860.5,114.68 862,113.73 863.5,112.8 865,111.9 866.5,111.03 868,110.17 869.5,109.34 871,108.53 872.5,107.75 874,106.98 875.5,106.24 877,105.51 878.5,104.81 880,104.13 881.5,103.47 883,102.82 884.5,102.2 886,101.59 887.5,101 889,100.43 890.5,99.88 892,99.35 893.5,98.83 895,98.33 896.5,97.84 898,97.37 899.5,96.92 901,96.48 902.5,96.05 904,95.64 905.5,95.24 907,94.86 908.5,94.49 910,94.13 911.5,93.78 913,93.45 914.5,93.12 916,92.81 917.5,92.51 919,92.22 920.5,91.94 922,91.67 923.5,91.41 925,91.15 926.5,90.91 928,90.67 929.5,90.45 931,90.22 932.5,90.01 934,89.8 935.5,89.6 937,89.41 938.5,89.22 940,89.03 941.5,88.85 943,88.68 944.5,88.5 946,88.34 947.5,88.17 949,88.01 950.5,87.85 952,87.69 953.5,87.54 955,87.38 956.5,87.23 958,87.08 959.5,86.93 961,86.78 962.5,86.63 964,86.48 965.5,86.34 967,86.19 968.5,86.05 970,85.9 971.5,85.76 973,85.62 974.5,85.48 976,85.34 977.5,85.2 979,85.06 980.5,84.92 982,84.79 983.5,84.65 985,84.52 986.5,84.38 988,84.25 989.5,84.12 991,83.99 992.5,83.86 994,83.73 995.5,83.6 997,83.48 998.5,83.35 1000,83.23 1001.5,83.1 1003,82.98 1004.5,82.86 1006,82.74 1007.5,82.62 1009,82.5 1010.5,82.38 1012,82.26 1013.5,82.14 1015,82.03 1016.5,81.91 1018,81.8 1019.5,81.69 1021,81.57 1022.5,81.46 1024,81.35 1025.5,81.24 1027,81.13 1028.5,81.03 1030,80.92 1031.5,80.81 1033,80.71 1034.5,80.6 1036,80.5 1037.5,80.39 1039,80.29 1040.5,80.19 1042,80.09 1043.5,79.99 1045,79.89 1046.5,79.79 1048,79.7 1049.5,79.6 1051,79.5 1052.5,79.41 1054,79.31 1055.5,79.22 1057,79.13 1058.5,79.04 1060,78.94 1061.5,78.85 1063,78.76 1064.5,78.68 1066,78.59 1067.5,78.5 1069,78.41 1070.5,78.33 1072,78.24 1073.5,78.16 1075,78.08 1076.5,77.99 1078,77.91 1079.5,77.83 1081,77.75 1082.5,77.67 1084,77.59 1085.5,77.51 1087,77.43 1088.5,77.36 1090,77.28 1091.5,77.2 1093,77.13 1094.5,77.05 1096,76.98 1097.5,76.91 1099,76.84 1100.5,76.76 1102,76.69 1103.5,76.62 1105,76.55 1106.5,76.49 1108,76.42 1109.5,76.35 1111,76.28 1112.5,76.22 1114,76.15 1115.5,76.09 1117,76.02 1117.4,76" stroke="#9BBB59"/>
<path d="M752.5,287.87 754,284.66 755.5,281.45 757,278.23 758.5,275.03 760,271.82 761.5,268.62 763,265.43 764.5,262.25 766,259.07 767.5,255.91 769,252.76 770.5,249.63 772,246.51 773.5,243.41 775,240.32 776.5,237.26 778,234.22 779.5,231.2 781,228.21 782.5,225.24 784,222.3 785.5,219.39 787,216.51 788.5,213.66 790,210.85 791.5,208.07 793,205.32 794.5,202.62 796,199.95 797.5,197.33 799,194.74 800.5,192.2 802,189.71 803.5,187.26 805,184.86 806.5,182.51 808,180.21 809.5,177.97 811,175.77 812.5,173.63 814,171.53 815.5,169.49 817,167.49 818.5,165.53 820,163.63 821.5,161.77 823,159.95 824.5,158.17 826,156.43 827.5,154.74 829,153.09 830.5,151.47 832,149.89 833.5,148.35 835,146.84 836.5,145.37 838,143.93 839.5,142.52 841,141.15 842.5,139.8 844,138.49 845.5,137.2 847,135.94 848.5,134.71 850,133.5 851.5,132.32 853,131.17 854.5,130.03 856,128.93 857.5,127.84 859,126.78 860.5,125.75 862,124.73 863.5,123.74 865,122.78 866.5,121.83 868,120.9 869.5,120 871,119.12 872.5,118.26 874,117.42 875.5,116.6 877,115.8 878.5,115.01 880,114.25 881.5,113.51 883,112.78 884.5,112.07 886,111.38 887.5,110.71 889,110.06 890.5,109.42 892,108.79 893.5,108.19 895,107.6 896.5,107.02 898,106.46 899.5,105.92 901,105.39 902.5,104.87 904,104.37 905.5,103.88 907,103.4 908.5,102.94 910,102.48 911.5,102.04 913,101.62 914.5,101.2 916,100.79 917.5,100.4 919,100.02 920.5,99.64 922,99.28 923.5,98.92 925,98.58 926.5,98.24 928,97.91 929.5,97.59 931,97.28 932.5,96.97 934,96.67 935.5,96.38 937,96.1 938.5,95.82 940,95.54 941.5,95.27 943,95.01 944.5,94.75 946,94.5 947.5,94.25 949,94 950.5,93.76 952,93.52 953.5,93.29 955,93.05 956.5,92.82 958,92.59 959.5,92.36 961,92.13 962.5,91.91 964,91.69 965.5,91.47 967,91.25 968.5,91.03 970,90.82 971.5,90.61 973,90.4 974.5,90.19 976,89.98 977.5,89.78 979,89.58 980.5,89.37 982,89.17 983.5,88.98 985,88.78 986.5,88.59 988,88.39 989.5,88.2 991,88.01 992.5,87.83 994,87.64 995.5,87.46 997,87.27 998.5,87.09 1000,86.91 1001.5,86.73 1003,86.56 1004.5,86.38 1006,86.21 1007.5,86.04 1009,85.86 1010.5,85.69 1012,85.53 1013.5,85.36 1015,85.19 1016.5,85.03 1018,84.87 1019.5,84.71 1021,84.54 1022.5,84.39 1024,84.23 1025.5,84.07 1027,83.92 1028.5,83.76 1030,83.61 1031.5,83.46 1033,83.31 1034.5,83.16 1036,83.01 1037.5,82.86 1039,82.71 1040.5,82.57 1042,82.42 1043.5,82.28 1045,82.14 1046.5,81.99 1048,81.85 1049.5,81.71 1051,81.57 1052.5,81.44 1054,81.3 1055.5,81.16 1057,81.03 1058.5,80.89 1060,80.76 1061.5,80.62 1063,80.49 1064.5,80.36 1066,80.23 1067.5,80.1 1069,79.97 1070.5,79.84 1072,79.71 1073.5,79.58 1075,79.45 1076.5,79.33 1078,79.2 1079.5,79.07 1081,78.95 1082.5,78.82 1084,78.7 1085.5,78.57 1087,78.45 1088.5,78.33 1090,78.2 1091.5,78.08 1093,77.96 1094.5,77.84 1096,77.72 1097.5,77.59 1099,77.47 1100.5,77.35 1102,77.23 1103.5,77.11 1105,76.99 1106.5,76.87 1108,76.75 1109.5,76.63 1111,76.51 1112.5,76.39 1114,76.27 1115.5,76.15 1117,76.03 1117.4,76" stroke="#8064A2"/>
<path d="M752.5,306.11 754,303.32 755.5,300.49 757,297.63 758.5,294.75 760,291.84 761.5,288.91 763,285.95 764.5,282.98 766,280 767.5,277 769,273.99 770.5,270.97 772,267.95 773.5,264.92 775,261.9 776.5,258.87 778,255.85 779.5,252.83 781,249.83 782.5,246.83 784,243.85 785.5,240.88 787,237.93 788.5,235 790,232.09 791.5,229.21 793,226.36 794.5,223.54 796,220.75 797.5,217.99 799,215.27 800.5,212.59 802,209.95 803.5,207.36 805,204.81 806.5,202.32 808,199.87 809.5,197.48 811,195.14 812.5,192.85 814,190.61 815.5,188.43 817,186.29 818.5,184.19 820,182.14 821.5,180.14 823,178.18 824.5,176.26 826,174.38 827.5,172.54 829,170.74 830.5,168.98 832,167.25 833.5,165.56 835,163.9 836.5,162.27 838,160.68 839.5,159.11 841,157.57 842.5,156.06 844,154.58 845.5,153.12 847,151.69 848.5,150.28 850,148.89 851.5,147.52 853,146.17 854.5,144.85 856,143.54 857.5,142.26 859,141 860.5,139.76 862,138.54 863.5,137.34 865,136.16 866.5,135 868,133.85 869.5,132.73 871,131.63 872.5,130.55 874,129.48 875.5,128.44 877,127.41 878.5,126.4 880,125.41 881.5,124.44 883,123.49 884.5,122.55 886,121.63 887.5,120.73 889,119.85 890.5,118.98 892,118.13 893.5,117.29 895,116.48 896.5,115.67 898,114.89 899.5,114.12 901,113.36 902.5,112.63 904,111.9 905.5,111.2 907,110.5 908.5,109.82 910,109.16 911.5,108.51 913,107.88 914.5,107.26 916,106.65 917.5,106.06 919,105.48 920.5,104.91 922,104.36 923.5,103.82 925,103.29 926.5,102.77 928,102.27 929.5,101.78 931,101.3 932.5,100.84 934,100.38 935.5,99.94 937,99.51 938.5,99.08 940,98.68 941.5,98.28 943,97.89 944.5,97.51 946,97.14 947.5,96.78 949,96.44 950.5,96.1 952,95.77 953.5,95.45 955,95.14 956.5,94.84 958,94.54 959.5,94.26 961,93.99 962.5,93.72 964,93.46 965.5,93.21 967,92.96 968.5,92.73 970,92.5 971.5,92.28 973,92.06 974.5,91.85 976,91.65 977.5,91.46 979,91.27 980.5,91.08 982,90.91 983.5,90.74 985,90.57 986.5,90.41 988,90.25 989.5,90.1 991,89.96 992.5,89.82 994,89.68 995.5,89.55 997,89.42 998.5,89.29 1000,89.17 1001.5,89.06 1003,88.94 1004.5,88.83 1006,88.72 1007.5,88.62 1009,88.51 1010.5,88.41 1012,88.31 1013.5,88.22 1015,88.12 1016.5,88.03 1018,87.94 1019.5,87.85 1021,87.76 1022.5,87.67 1024,87.59 1025.5,87.5 1027,87.41 1028.5,87.33 1030,87.24 1031.5,87.16 1033,87.07 1034.5,86.98 1036,86.9 1037.5,86.81 1039,86.72 1040.5,86.63 1042,86.53 1043.5,86.44 1045,86.35 1046.5,86.25 1048,86.15 1049.5,86.05 1051,85.94 1052.5,85.83 1054,85.72 1055.5,85.61 1057,85.49 1058.5,85.37 1060,85.25 1061.5,85.12 1063,84.99 1064.5,84.86 1066,84.72 1067.5,84.57 1069,84.42 1070.5,84.27 1072,84.11 1073.5,83.95 1075,83.78 1076.5,83.6 1078,83.42 1079.5,83.23 1081,83.04 1082.5,82.84 1084,82.63 1085.5,82.42 1087,82.2 1088.5,81.97 1090,81.74 1091.5,81.5 1093,81.25 1094.5,80.99 1096,80.73 1097.5,80.45 1099,80.17 1100.5,79.88 1102,79.58 1103.5,79.28 1105,78.96 1106.5,78.63 1108,78.3 1109.5,77.95 1111,77.6 1112.5,77.23 1114,76.86 1115.5,76.47 1117,76.08 1117.4,75.97" stroke="#4BACC6"/>
<path d="M752.5,338.8 754,336.63 755.5,334.35 757,331.98 758.5,329.5 760,326.94 761.5,324.3 763,321.58 764.5,318.79 766,315.94 767.5,313.03 769,310.06 770.5,307.05 772,304 773.5,300.91 775,297.8 776.5,294.66 778,291.51 779.5,288.35 781,285.18 782.5,282.02 784,278.86 785.5,275.71 787,272.6 788.5,269.53 790,266.52 791.5,263.58 793,260.73 794.5,257.96 796,255.27 797.5,252.65 799,250.08 800.5,247.56 802,245.08 803.5,242.63 805,240.2 806.5,237.78 808,235.35 809.5,232.92 811,230.48 812.5,228.04 814,225.59 815.5,223.13 817,220.68 818.5,218.23 820,215.78 821.5,213.33 823,210.89 824.5,208.46 826,206.04 827.5,203.63 829,201.24 830.5,198.86 832,196.5 833.5,194.16 835,191.84 836.5,189.55 838,187.28 839.5,185.04 841,182.82 842.5,180.64 844,178.49 845.5,176.38 847,174.3 848.5,172.26 850,170.25 851.5,168.29 853,166.37 854.5,164.48 856,162.63 857.5,160.82 859,159.05 860.5,157.31 862,155.61 863.5,153.94 865,152.3 866.5,150.71 868,149.14 869.5,147.61 871,146.11 872.5,144.64 874,143.21 875.5,141.81 877,140.44 878.5,139.09 880,137.78 881.5,136.5 883,135.25 884.5,134.03 886,132.83 887.5,131.66 889,130.52 890.5,129.41 892,128.32 893.5,127.26 895,126.23 896.5,125.21 898,124.23 899.5,123.27 901,122.33 902.5,121.41 904,120.52 905.5,119.65 907,118.8 908.5,117.97 910,117.17 911.5,116.38 913,115.61 914.5,114.87 916,114.14 917.5,113.43 919,112.74 920.5,112.06 922,111.4 923.5,110.76 925,110.14 926.5,109.53 928,108.94 929.5,108.36 931,107.79 932.5,107.24 934,106.71 935.5,106.18 937,105.67 938.5,105.17 940,104.68 941.5,104.2 943,103.74 944.5,103.28 946,102.83 947.5,102.4 949,101.97 950.5,101.55 952,101.13 953.5,100.73 955,100.33 956.5,99.94 958,99.55 959.5,99.17 961,98.8 962.5,98.43 964,98.07 965.5,97.71 967,97.36 968.5,97.02 970,96.68 971.5,96.34 973,96.02 974.5,95.69 976,95.38 977.5,95.06 979,94.76 980.5,94.45 982,94.16 983.5,93.86 985,93.57 986.5,93.29 988,93.01 989.5,92.74 991,92.47 992.5,92.2 994,91.94 995.5,91.68 997,91.43 998.5,91.18 1000,90.93 1001.5,90.69 1003,90.45 1004.5,90.22 1006,89.98 1007.5,89.76 1009,89.53 1010.5,89.31 1012,89.09 1013.5,88.87 1015,88.66 1016.5,88.45 1018,88.24 1019.5,88.04 1021,87.83 1022.5,87.63 1024,87.44 1025.5,87.24 1027,87.05 1028.5,86.86 1030,86.67 1031.5,86.48 1033,86.3 1034.5,86.11 1036,85.93 1037.5,85.75 1039,85.57 1040.5,85.39 1042,85.22 1043.5,85.04 1045,84.87 1046.5,84.69 1048,84.52 1049.5,84.35 1051,84.18 1052.5,84.01 1054,83.84 1055.5,83.67 1057,83.5 1058.5,83.33 1060,83.17 1061.5,83 1063,82.83 1064.5,82.66 1066,82.49 1067.5,82.33 1069,82.16 1070.5,81.99 1072,81.82 1073.5,81.65 1075,81.48 1076.5,81.31 1078,81.13 1079.5,80.96 1081,80.78 1082.5,80.61 1084,80.43 1085.5,80.25 1087,80.07 1088.5,79.89 1090,79.71 1091.5,79.53 1093,79.34 1094.5,79.15 1096,78.96 1097.5,78.77 1099,78.57 1100.5,78.38 1102,78.18 1103.5,77.98 1105,77.77 1106.5,77.57 1108,77.36 1109.5,77.15 1111,76.93 1112.5,76.71 1114,76.49 1115.5,76.27 1117,76.04 1117.4,75.98" stroke="#F79646"/>
<path d="M752.5,367.81 754,365.52 755.5,363.14 757,360.68 758.5,358.13 760,355.51 761.5,352.82 763,350.06 764.5,347.24 766,344.36 767.5,341.43 769,338.45 770.5,335.42 772,332.36 773.5,329.26 775,326.13 776.5,322.98 778,319.8 779.5,316.61 781,313.4 782.5,310.19 784,306.98 785.5,303.76 787,300.56 788.5,297.36 790,294.18 791.5,291.02 793,287.88 794.5,284.77 796,281.69 797.5,278.64 799,275.61 800.5,272.61 802,269.65 803.5,266.71 805,263.81 806.5,260.94 808,258.1 809.5,255.3 811,252.53 812.5,249.79 814,247.09 815.5,244.41 817,241.75 818.5,239.13 820,236.53 821.5,233.95 823,231.39 824.5,228.86 826,226.34 827.5,223.85 829,221.37 830.5,218.9 832,216.45 833.5,214.02 835,211.59 836.5,209.19 838,206.81 839.5,204.44 841,202.1 842.5,199.79 844,197.5 845.5,195.24 847,193.02 848.5,190.83 850,188.68 851.5,186.56 853,184.48 854.5,182.43 856,180.42 857.5,178.44 859,176.49 860.5,174.58 862,172.7 863.5,170.85 865,169.04 866.5,167.25 868,165.5 869.5,163.78 871,162.09 872.5,160.43 874,158.8 875.5,157.2 877,155.63 878.5,154.09 880,152.58 881.5,151.1 883,149.64 884.5,148.21 886,146.81 887.5,145.43 889,144.09 890.5,142.76 892,141.47 893.5,140.2 895,138.95 896.5,137.73 898,136.53 899.5,135.36 901,134.21 902.5,133.08 904,131.98 905.5,130.9 907,129.84 908.5,128.8 910,127.79 911.5,126.79 913,125.82 914.5,124.86 916,123.93 917.5,123.02 919,122.12 920.5,121.24 922,120.39 923.5,119.55 925,118.73 926.5,117.92 928,117.14 929.5,116.37 931,115.61 932.5,114.87 934,114.15 935.5,113.45 937,112.75 938.5,112.08 940,111.41 941.5,110.76 943,110.13 944.5,109.5 946,108.89 947.5,108.3 949,107.71 950.5,107.14 952,106.58 953.5,106.02 955,105.48 956.5,104.95 958,104.43 959.5,103.92 961,103.42 962.5,102.93 964,102.45 965.5,101.97 967,101.51 968.5,101.06 970,100.61 971.5,100.18 973,99.75 974.5,99.33 976,98.92 977.5,98.51 979,98.12 980.5,97.73 982,97.35 983.5,96.98 985,96.62 986.5,96.26 988,95.91 989.5,95.57 991,95.23 992.5,94.9 994,94.58 995.5,94.26 997,93.95 998.5,93.64 1000,93.35 1001.5,93.05 1003,92.77 1004.5,92.48 1006,92.21 1007.5,91.94 1009,91.67 1010.5,91.41 1012,91.15 1013.5,90.9 1015,90.65 1016.5,90.41 1018,90.17 1019.5,89.94 1021,89.7 1022.5,89.48 1024,89.25 1025.5,89.03 1027,88.81 1028.5,88.6 1030,88.39 1031.5,88.18 1033,87.97 1034.5,87.77 1036,87.57 1037.5,87.37 1039,87.17 1040.5,86.98 1042,86.79 1043.5,86.59 1045,86.4 1046.5,86.21 1048,86.03 1049.5,85.84 1051,85.65 1052.5,85.47 1054,85.28 1055.5,85.1 1057,84.92 1058.5,84.73 1060,84.55 1061.5,84.37 1063,84.18 1064.5,84 1066,83.81 1067.5,83.62 1069,83.44 1070.5,83.25 1072,83.06 1073.5,82.87 1075,82.68 1076.5,82.48 1078,82.29 1079.5,82.09 1081,81.89 1082.5,81.69 1084,81.48 1085.5,81.27 1087,81.06 1088.5,80.85 1090,80.64 1091.5,80.42 1093,80.19 1094.5,79.97 1096,79.74 1097.5,79.51 1099,79.27 1100.5,79.03 1102,78.78 1103.5,78.53 1105,78.28 1106.5,78.02 1108,77.76 1109.5,77.49 1111,77.21 1112.5,76.94 1114,76.65 1115.5,76.36 1117,76.07 1117.4,75.99" stroke="#1F497D"/>
</g>
<path d="M752.5 75.3V415.6H1118.1000000000001" fill="none" stroke="#000" stroke-width="2"/>
<path d="M752.5 392.96h4.3M752.5 370.32h4.3M752.5 347.68h4.3M752.5 325.04h4.3M752.5 302.4h4.3M752.5 279.76h4.3M752.5 257.12h4.3M752.5 234.48h4.3M752.5 211.84h4.3M752.5 189.2h4.3M752.5 166.56h4.3M752.5 143.92h4.3M752.5 121.28h4.3M752.5 98.64h4.3M782.91 415.6v-4.3M813.32 415.6v-4.3M843.73 415.6v-4.3M874.13 415.6v-4.3M904.54 415.6v-4.3M934.95 415.6v-4.3M965.36 415.6v-4.3M995.77 415.6v-4.3M1026.18 415.6v-4.3M1056.58 415.6v-4.3M1086.99 415.6v-4.3M1117.4 415.6v-4.3" stroke="#000" stroke-width="1.6" fill="none"/>
<text x="736" y="80.3" text-anchor="end" font-family='"Liberation Sans", sans-serif' font-size="12" fill="#000">100</text>
<text x="736" y="193.5" text-anchor="end" font-family='"Liberation Sans", sans-serif' font-size="12" fill="#000">99</text>
<text x="736" y="306.7" text-anchor="end" font-family='"Liberation Sans", sans-serif' font-size="12" fill="#000">98</text>
<text x="736" y="419.9" text-anchor="end" font-family='"Liberation Sans", sans-serif' font-size="12" fill="#000">97</text>
<text x="752.5" y="438.5" text-anchor="middle" font-family='"Liberation Sans", sans-serif' font-size="12.4" fill="#000">10<tspan font-size="15.5" dy="2.6">^</tspan><tspan dy="-2.6">-6</tspan></text>
<text x="813.32" y="438.5" text-anchor="middle" font-family='"Liberation Sans", sans-serif' font-size="12.4" fill="#000">10<tspan font-size="15.5" dy="2.6">^</tspan><tspan dy="-2.6">-5</tspan></text>
<text x="874.13" y="438.5" text-anchor="middle" font-family='"Liberation Sans", sans-serif' font-size="12.4" fill="#000">10<tspan font-size="15.5" dy="2.6">^</tspan><tspan dy="-2.6">-4</tspan></text>
<text x="934.95" y="438.5" text-anchor="middle" font-family='"Liberation Sans", sans-serif' font-size="12.4" fill="#000">10<tspan font-size="15.5" dy="2.6">^</tspan><tspan dy="-2.6">-3</tspan></text>
<text x="995.77" y="438.5" text-anchor="middle" font-family='"Liberation Sans", sans-serif' font-size="12.4" fill="#000">10<tspan font-size="15.5" dy="2.6">^</tspan><tspan dy="-2.6">-2</tspan></text>
<text x="1056.58" y="438.5" text-anchor="middle" font-family='"Liberation Sans", sans-serif' font-size="12.4" fill="#000">10<tspan font-size="15.5" dy="2.6">^</tspan><tspan dy="-2.6">-1</tspan></text>
<text x="1117.4" y="438.5" text-anchor="middle" font-family='"Liberation Sans", sans-serif' font-size="12.4" fill="#000">1</text>
<text x="934.5" y="467.1" text-anchor="middle" font-family='"Liberation Serif", serif' font-size="22" fill="#000">False Positive Rate (FPR)</text>
<text transform="translate(704.9 246.4) rotate(-90)" x="0" y="0" text-anchor="middle" font-family='"Liberation Serif", serif' font-size="21.6" fill="#000">True Positive Rat e (TPR, %)</text>
<rect x="893.6" y="252.4" width="203.4" height="147.2" fill="#fff" stroke="#000" stroke-width="1.5"/>
<path d="M914.6 263H946" stroke="#4F81BD" stroke-width="2.6" stroke-linecap="butt"/>
<text x="949.4" y="267.69" font-family='"Liberation Serif", serif' font-size="14.2" fill="#000">ACNN-Res100 (ours)</text>
<path d="M914.6 284H946" stroke="#C0504D" stroke-width="2.6" stroke-linecap="butt"/>
<text x="949.4" y="288.69" font-family='"Liberation Serif", serif' font-size="14.2" fill="#000">ArcFace-AttentionNet</text>
<path d="M914.6 305H946" stroke="#9BBB59" stroke-width="2.6" stroke-linecap="butt"/>
<text x="949.4" y="309.69" font-family='"Liberation Serif", serif' font-size="14.2" fill="#000">ArcFace-SeNet</text>
<path d="M914.6 326H946" stroke="#8064A2" stroke-width="2.6" stroke-linecap="butt"/>
<text x="949.4" y="330.69" font-family='"Liberation Serif", serif' font-size="14.2" fill="#000">ArcFace</text>
<path d="M914.6 347H946" stroke="#4BACC6" stroke-width="2.6" stroke-linecap="butt"/>
<text x="949.4" y="351.69" font-family='"Liberation Serif", serif' font-size="14.2" fill="#000">CosFace</text>
<path d="M914.6 368H946" stroke="#F79646" stroke-width="2.6" stroke-linecap="butt"/>
<text x="949.4" y="372.69" font-family='"Liberation Serif", serif' font-size="14.2" fill="#000">SphereFace</text>
<path d="M914.6 389H946" stroke="#1F497D" stroke-width="2.6" stroke-linecap="butt"/>
<text x="949.4" y="393.69" font-family='"Liberation Serif", serif' font-size="14.2" fill="#000">SV-Softmax</text>
<text transform="translate(654.00 539.4) scale(1.0828 1)" x="0" y="0" font-family='"Liberation Serif", serif' font-size="38.5" fill="#000">(b)</text>
<text transform="translate(720.73 539.4) scale(1.1204 1)" x="0" y="0" font-family='"Liberation Serif", serif' font-size="38.5" fill="#000">ROC Under Large Protocol</text>
<rect x="9.75" y="593.75" width="535.5" height="502.5" fill="none" stroke="#d6d6d0" stroke-width="1.5"/>
<text x="152.2" y="636.7" font-family='"Liberation Serif", serif' font-size="22" fill="#000">Identification with 1M Distractors</text>
<path d="M90 655.6H471" fill="none" stroke="#000" stroke-width="1.9"/>
<path d="M471 655.6V1014" fill="none" stroke="#3a3a40" stroke-width="1.8"/>
<clipPath id="clipc"><rect x="90" y="653.6" width="383" height="360.4"/></clipPath>
<g clip-path="url(#clipc)" fill="none" stroke-width="2.4" stroke-linejoin="round" stroke-linecap="round">
<path d="M90,822.55 91.5,819.8 93,817 94.5,814.15 96,811.27 97.5,808.35 99,805.4 100.5,802.41 102,799.4 103.5,796.37 105,793.31 106.5,790.24 108,787.16 109.5,784.07 111,780.97 112.5,777.87 114,774.77 115.5,771.68 117,768.6 118.5,765.52 120,762.47 121.5,759.43 123,756.42 124.5,753.43 126,750.47 127.5,747.54 129,744.66 130.5,741.81 132,739 133.5,736.25 135,733.54 136.5,730.89 138,728.29 139.5,725.76 141,723.3 142.5,720.9 144,718.57 145.5,716.32 147,714.15 148.5,712.06 150,710.05 151.5,708.14 153,706.31 154.5,704.57 156,702.91 157.5,701.33 159,699.82 160.5,698.39 162,697.03 163.5,695.74 165,694.52 166.5,693.36 168,692.26 169.5,691.23 171,690.25 172.5,689.32 174,688.44 175.5,687.61 177,686.83 178.5,686.1 180,685.4 181.5,684.74 183,684.12 184.5,683.53 186,682.98 187.5,682.45 189,681.95 190.5,681.47 192,681.01 193.5,680.57 195,680.15 196.5,679.73 198,679.33 199.5,678.94 201,678.55 202.5,678.17 204,677.79 205.5,677.42 207,677.05 208.5,676.69 210,676.33 211.5,675.97 213,675.62 214.5,675.27 216,674.93 217.5,674.59 219,674.26 220.5,673.93 222,673.6 223.5,673.28 225,672.97 226.5,672.65 228,672.34 229.5,672.04 231,671.74 232.5,671.44 234,671.15 235.5,670.86 237,670.58 238.5,670.3 240,670.02 241.5,669.75 243,669.48 244.5,669.21 246,668.95 247.5,668.69 249,668.44 250.5,668.19 252,667.94 253.5,667.7 255,667.46 256.5,667.22 258,666.99 259.5,666.76 261,666.53 262.5,666.31 264,666.09 265.5,665.88 267,665.66 268.5,665.46 270,665.25 271.5,665.05 273,664.85 274.5,664.65 276,664.46 277.5,664.27 279,664.08 280.5,663.9 282,663.72 283.5,663.54 285,663.37 286.5,663.2 288,663.03 289.5,662.86 291,662.7 292.5,662.54 294,662.39 295.5,662.23 297,662.08 298.5,661.93 300,661.79 301.5,661.64 303,661.5 304.5,661.37 306,661.23 307.5,661.1 309,660.97 310.5,660.84 312,660.71 313.5,660.59 315,660.47 316.5,660.35 318,660.24 319.5,660.13 321,660.01 322.5,659.91 324,659.8 325.5,659.7 327,659.59 328.5,659.49 330,659.4 331.5,659.3 333,659.21 334.5,659.12 336,659.03 337.5,658.94 339,658.85 340.5,658.77 342,658.69 343.5,658.61 345,658.53 346.5,658.45 348,658.38 349.5,658.31 351,658.24 352.5,658.17 354,658.1 355.5,658.03 357,657.97 358.5,657.91 360,657.85 361.5,657.79 363,657.73 364.5,657.67 366,657.62 367.5,657.56 369,657.51 370.5,657.46 372,657.41 373.5,657.36 375,657.32 376.5,657.27 378,657.22 379.5,657.18 381,657.14 382.5,657.1 384,657.06 385.5,657.02 387,656.98 388.5,656.94 390,656.91 391.5,656.87 393,656.84 394.5,656.8 396,656.77 397.5,656.74 399,656.71 400.5,656.68 402,656.65 403.5,656.62 405,656.59 406.5,656.57 408,656.54 409.5,656.51 411,656.49 412.5,656.46 414,656.44 415.5,656.41 417,656.39 418.5,656.37 420,656.34 421.5,656.32 423,656.3 424.5,656.28 426,656.26 427.5,656.23 429,656.21 430.5,656.19 432,656.17 433.5,656.15 435,656.13 436.5,656.11 438,656.09 439.5,656.07 441,656.05 442.5,656.03 444,656.01 445.5,655.99 447,655.97 448.5,655.95 450,655.92 451.5,655.9 453,655.88 454.5,655.86 456,655.84 457.5,655.81 459,655.79 460.5,655.77 462,655.74 463.5,655.72 465,655.7 466.5,655.67 468,655.65 469.5,655.62 471,655.59" stroke="#4F81BD"/>
<path d="M90,831.94 91.5,829.1 93,826.22 94.5,823.29 96,820.33 97.5,817.33 99,814.3 100.5,811.24 102,808.16 103.5,805.05 105,801.93 106.5,798.79 108,795.64 109.5,792.49 111,789.33 112.5,786.16 114,783.01 115.5,779.85 117,776.71 118.5,773.58 120,770.46 121.5,767.37 123,764.3 124.5,761.25 126,758.24 127.5,755.26 129,752.31 130.5,749.41 132,746.55 133.5,743.74 135,740.97 136.5,738.26 138,735.61 139.5,733.02 141,730.5 142.5,728.04 144,725.65 145.5,723.34 147,721.1 148.5,718.95 150,716.88 151.5,714.9 153,713 154.5,711.19 156,709.46 157.5,707.8 159,706.22 160.5,704.72 162,703.29 163.5,701.92 165,700.62 166.5,699.39 168,698.21 169.5,697.09 171,696.03 172.5,695.03 174,694.07 175.5,693.16 177,692.3 178.5,691.48 180,690.71 181.5,689.97 183,689.27 184.5,688.6 186,687.96 187.5,687.36 189,686.78 190.5,686.22 192,685.68 193.5,685.16 195,684.66 196.5,684.17 198,683.7 199.5,683.23 201,682.77 202.5,682.32 204,681.87 205.5,681.42 207,680.98 208.5,680.55 210,680.12 211.5,679.7 213,679.29 214.5,678.87 216,678.47 217.5,678.07 219,677.67 220.5,677.28 222,676.9 223.5,676.52 225,676.14 226.5,675.77 228,675.41 229.5,675.04 231,674.69 232.5,674.34 234,673.99 235.5,673.65 237,673.32 238.5,672.98 240,672.66 241.5,672.34 243,672.02 244.5,671.71 246,671.4 247.5,671.09 249,670.79 250.5,670.5 252,670.21 253.5,669.92 255,669.64 256.5,669.36 258,669.09 259.5,668.82 261,668.56 262.5,668.29 264,668.04 265.5,667.79 267,667.54 268.5,667.29 270,667.05 271.5,666.81 273,666.58 274.5,666.35 276,666.13 277.5,665.91 279,665.69 280.5,665.47 282,665.26 283.5,665.06 285,664.85 286.5,664.65 288,664.46 289.5,664.27 291,664.08 292.5,663.89 294,663.71 295.5,663.53 297,663.35 298.5,663.18 300,663.01 301.5,662.85 303,662.68 304.5,662.52 306,662.37 307.5,662.21 309,662.06 310.5,661.91 312,661.77 313.5,661.63 315,661.49 316.5,661.35 318,661.22 319.5,661.09 321,660.96 322.5,660.84 324,660.71 325.5,660.59 327,660.48 328.5,660.36 330,660.25 331.5,660.14 333,660.03 334.5,659.93 336,659.82 337.5,659.72 339,659.62 340.5,659.53 342,659.43 343.5,659.34 345,659.25 346.5,659.17 348,659.08 349.5,659 351,658.92 352.5,658.84 354,658.76 355.5,658.68 357,658.61 358.5,658.54 360,658.47 361.5,658.4 363,658.33 364.5,658.27 366,658.2 367.5,658.14 369,658.08 370.5,658.02 372,657.96 373.5,657.91 375,657.85 376.5,657.8 378,657.75 379.5,657.7 381,657.65 382.5,657.6 384,657.55 385.5,657.51 387,657.46 388.5,657.42 390,657.38 391.5,657.33 393,657.29 394.5,657.25 396,657.21 397.5,657.18 399,657.14 400.5,657.1 402,657.07 403.5,657.03 405,657 406.5,656.96 408,656.93 409.5,656.9 411,656.87 412.5,656.83 414,656.8 415.5,656.77 417,656.74 418.5,656.71 420,656.68 421.5,656.65 423,656.62 424.5,656.6 426,656.57 427.5,656.54 429,656.51 430.5,656.48 432,656.45 433.5,656.42 435,656.39 436.5,656.37 438,656.34 439.5,656.31 441,656.28 442.5,656.25 444,656.22 445.5,656.19 447,656.16 448.5,656.13 450,656.1 451.5,656.06 453,656.03 454.5,656 456,655.96 457.5,655.93 459,655.9 460.5,655.86 462,655.82 463.5,655.79 465,655.75 466.5,655.71 468,655.67 469.5,655.63 471,655.59" stroke="#C0504D"/>
<path d="M90,843.94 91.5,841.13 93,838.27 94.5,835.35 96,832.39 97.5,829.37 99,826.31 100.5,823.21 102,820.07 103.5,816.9 105,813.7 106.5,810.48 108,807.24 109.5,803.98 111,800.71 112.5,797.43 114,794.14 115.5,790.85 117,787.57 118.5,784.29 120,781.03 121.5,777.78 123,774.55 124.5,771.34 126,768.16 127.5,765 129,761.89 130.5,758.81 132,755.77 133.5,752.78 135,749.84 136.5,746.95 138,744.12 139.5,741.36 141,738.66 142.5,736.02 144,733.47 145.5,730.99 147,728.59 148.5,726.28 150,724.05 151.5,721.92 153,719.88 154.5,717.93 156,716.06 157.5,714.27 159,712.57 160.5,710.94 162,709.39 163.5,707.91 165,706.5 166.5,705.16 168,703.88 169.5,702.66 171,701.5 172.5,700.4 174,699.36 175.5,698.36 177,697.42 178.5,696.52 180,695.66 181.5,694.85 183,694.07 184.5,693.33 186,692.63 187.5,691.95 189,691.3 190.5,690.68 192,690.08 193.5,689.5 195,688.94 196.5,688.39 198,687.86 199.5,687.33 201,686.82 202.5,686.3 204,685.8 205.5,685.3 207,684.81 208.5,684.32 210,683.84 211.5,683.37 213,682.9 214.5,682.44 216,681.99 217.5,681.54 219,681.09 220.5,680.65 222,680.22 223.5,679.79 225,679.37 226.5,678.96 228,678.55 229.5,678.14 231,677.75 232.5,677.35 234,676.97 235.5,676.58 237,676.21 238.5,675.83 240,675.47 241.5,675.11 243,674.75 244.5,674.4 246,674.06 247.5,673.71 249,673.38 250.5,673.05 252,672.72 253.5,672.4 255,672.09 256.5,671.78 258,671.47 259.5,671.17 261,670.87 262.5,670.58 264,670.29 265.5,670.01 267,669.73 268.5,669.45 270,669.18 271.5,668.92 273,668.66 274.5,668.4 276,668.15 277.5,667.9 279,667.66 280.5,667.42 282,667.18 283.5,666.95 285,666.72 286.5,666.5 288,666.28 289.5,666.06 291,665.85 292.5,665.64 294,665.43 295.5,665.23 297,665.04 298.5,664.84 300,664.65 301.5,664.46 303,664.28 304.5,664.1 306,663.92 307.5,663.75 309,663.58 310.5,663.42 312,663.25 313.5,663.09 315,662.93 316.5,662.78 318,662.63 319.5,662.48 321,662.34 322.5,662.2 324,662.06 325.5,661.92 327,661.79 328.5,661.66 330,661.53 331.5,661.4 333,661.28 334.5,661.16 336,661.04 337.5,660.93 339,660.82 340.5,660.71 342,660.6 343.5,660.49 345,660.39 346.5,660.29 348,660.19 349.5,660.1 351,660 352.5,659.91 354,659.82 355.5,659.73 357,659.64 358.5,659.56 360,659.48 361.5,659.4 363,659.32 364.5,659.24 366,659.17 367.5,659.09 369,659.02 370.5,658.95 372,658.88 373.5,658.81 375,658.75 376.5,658.68 378,658.62 379.5,658.56 381,658.5 382.5,658.44 384,658.38 385.5,658.32 387,658.27 388.5,658.21 390,658.16 391.5,658.11 393,658.05 394.5,658 396,657.95 397.5,657.9 399,657.85 400.5,657.81 402,657.76 403.5,657.71 405,657.67 406.5,657.62 408,657.58 409.5,657.53 411,657.49 412.5,657.44 414,657.4 415.5,657.36 417,657.31 418.5,657.27 420,657.23 421.5,657.19 423,657.15 424.5,657.1 426,657.06 427.5,657.02 429,656.98 430.5,656.93 432,656.89 433.5,656.85 435,656.81 436.5,656.76 438,656.72 439.5,656.68 441,656.63 442.5,656.59 444,656.54 445.5,656.49 447,656.45 448.5,656.4 450,656.35 451.5,656.3 453,656.26 454.5,656.21 456,656.15 457.5,656.1 459,656.05 460.5,656 462,655.94 463.5,655.89 465,655.83 466.5,655.77 468,655.71 469.5,655.65 471,655.59" stroke="#9BBB59"/>
<path d="M90,855.91 91.5,852.91 93,849.86 94.5,846.76 96,843.62 97.5,840.43 99,837.21 100.5,833.96 102,830.67 103.5,827.37 105,824.03 106.5,820.69 108,817.32 109.5,813.95 111,810.56 112.5,807.18 114,803.79 115.5,800.41 117,797.03 118.5,793.67 120,790.32 121.5,786.98 123,783.67 124.5,780.39 126,777.14 127.5,773.92 129,770.73 130.5,767.59 132,764.49 133.5,761.44 135,758.44 136.5,755.49 138,752.6 139.5,749.78 141,747.02 142.5,744.34 144,741.72 145.5,739.18 147,736.73 148.5,734.36 150,732.08 151.5,729.88 153,727.78 154.5,725.77 156,723.84 157.5,721.99 159,720.22 160.5,718.53 162,716.91 163.5,715.36 165,713.88 166.5,712.47 168,711.13 169.5,709.84 171,708.61 172.5,707.44 174,706.33 175.5,705.26 177,704.24 178.5,703.27 180,702.35 181.5,701.46 183,700.61 184.5,699.8 186,699.02 187.5,698.28 189,697.56 190.5,696.86 192,696.19 193.5,695.54 195,694.91 196.5,694.3 198,693.69 199.5,693.1 201,692.52 202.5,691.94 204,691.37 205.5,690.8 207,690.25 208.5,689.69 210,689.15 211.5,688.61 213,688.08 214.5,687.56 216,687.04 217.5,686.53 219,686.03 220.5,685.53 222,685.04 223.5,684.55 225,684.07 226.5,683.6 228,683.13 229.5,682.67 231,682.22 232.5,681.77 234,681.33 235.5,680.89 237,680.46 238.5,680.04 240,679.62 241.5,679.21 243,678.8 244.5,678.4 246,678 247.5,677.61 249,677.23 250.5,676.85 252,676.47 253.5,676.1 255,675.74 256.5,675.38 258,675.03 259.5,674.68 261,674.34 262.5,674 264,673.67 265.5,673.34 267,673.02 268.5,672.7 270,672.39 271.5,672.08 273,671.78 274.5,671.48 276,671.19 277.5,670.9 279,670.61 280.5,670.34 282,670.06 283.5,669.79 285,669.52 286.5,669.26 288,669 289.5,668.75 291,668.5 292.5,668.26 294,668.02 295.5,667.78 297,667.55 298.5,667.32 300,667.09 301.5,666.87 303,666.65 304.5,666.44 306,666.23 307.5,666.03 309,665.82 310.5,665.63 312,665.43 313.5,665.24 315,665.05 316.5,664.87 318,664.69 319.5,664.51 321,664.33 322.5,664.16 324,664 325.5,663.83 327,663.67 328.5,663.51 330,663.36 331.5,663.2 333,663.05 334.5,662.91 336,662.76 337.5,662.62 339,662.48 340.5,662.35 342,662.21 343.5,662.08 345,661.96 346.5,661.83 348,661.71 349.5,661.59 351,661.47 352.5,661.35 354,661.24 355.5,661.13 357,661.02 358.5,660.91 360,660.81 361.5,660.7 363,660.6 364.5,660.51 366,660.41 367.5,660.31 369,660.22 370.5,660.13 372,660.04 373.5,659.95 375,659.86 376.5,659.78 378,659.7 379.5,659.61 381,659.53 382.5,659.45 384,659.38 385.5,659.3 387,659.22 388.5,659.15 390,659.08 391.5,659.01 393,658.94 394.5,658.87 396,658.8 397.5,658.73 399,658.66 400.5,658.6 402,658.53 403.5,658.47 405,658.4 406.5,658.34 408,658.28 409.5,658.22 411,658.15 412.5,658.09 414,658.03 415.5,657.97 417,657.91 418.5,657.85 420,657.79 421.5,657.74 423,657.68 424.5,657.62 426,657.56 427.5,657.5 429,657.44 430.5,657.38 432,657.32 433.5,657.26 435,657.2 436.5,657.14 438,657.08 439.5,657.02 441,656.96 442.5,656.9 444,656.84 445.5,656.78 447,656.71 448.5,656.65 450,656.59 451.5,656.52 453,656.46 454.5,656.39 456,656.32 457.5,656.25 459,656.18 460.5,656.11 462,656.04 463.5,655.97 465,655.89 466.5,655.82 468,655.74 469.5,655.67 471,655.59" stroke="#8064A2"/>
<path d="M90,946.19 91.5,940.88 93,935.62 94.5,930.4 96,925.22 97.5,920.09 99,914.99 100.5,909.93 102,904.9 103.5,899.9 105,894.94 106.5,889.99 108,885.08 109.5,880.18 111,875.3 112.5,870.44 114,865.59 115.5,860.76 117,855.93 118.5,851.12 120,846.31 121.5,841.5 123,836.7 124.5,831.92 126,827.16 127.5,822.43 129,817.74 130.5,813.1 132,808.51 133.5,803.97 135,799.5 136.5,795.11 138,790.79 139.5,786.57 141,782.43 142.5,778.4 144,774.47 145.5,770.66 147,766.97 148.5,763.41 150,759.99 151.5,756.7 153,753.56 154.5,750.55 156,747.67 157.5,744.92 159,742.29 160.5,739.78 162,737.39 163.5,735.11 165,732.94 166.5,730.87 168,728.9 169.5,727.03 171,725.24 172.5,723.55 174,721.94 175.5,720.41 177,718.96 178.5,717.58 180,716.27 181.5,715.02 183,713.84 184.5,712.71 186,711.63 187.5,710.6 189,709.62 190.5,708.68 192,707.77 193.5,706.9 195,706.06 196.5,705.25 198,704.45 199.5,703.67 201,702.91 202.5,702.16 204,701.42 205.5,700.7 207,699.98 208.5,699.28 210,698.59 211.5,697.91 213,697.24 214.5,696.58 216,695.93 217.5,695.3 219,694.67 220.5,694.06 222,693.45 223.5,692.86 225,692.27 226.5,691.7 228,691.13 229.5,690.58 231,690.03 232.5,689.49 234,688.97 235.5,688.45 237,687.94 238.5,687.44 240,686.94 241.5,686.46 243,685.98 244.5,685.51 246,685.05 247.5,684.6 249,684.15 250.5,683.71 252,683.28 253.5,682.86 255,682.44 256.5,682.03 258,681.63 259.5,681.23 261,680.84 262.5,680.45 264,680.07 265.5,679.7 267,679.33 268.5,678.97 270,678.61 271.5,678.26 273,677.91 274.5,677.57 276,677.23 277.5,676.9 279,676.57 280.5,676.25 282,675.93 283.5,675.61 285,675.3 286.5,674.99 288,674.69 289.5,674.39 291,674.09 292.5,673.79 294,673.5 295.5,673.21 297,672.92 298.5,672.64 300,672.36 301.5,672.08 303,671.8 304.5,671.52 306,671.25 307.5,670.98 309,670.71 310.5,670.44 312,670.17 313.5,669.91 315,669.65 316.5,669.39 318,669.13 319.5,668.88 321,668.62 322.5,668.37 324,668.12 325.5,667.88 327,667.64 328.5,667.39 330,667.15 331.5,666.92 333,666.68 334.5,666.45 336,666.22 337.5,665.99 339,665.76 340.5,665.54 342,665.32 343.5,665.1 345,664.88 346.5,664.67 348,664.46 349.5,664.25 351,664.04 352.5,663.84 354,663.63 355.5,663.43 357,663.23 358.5,663.04 360,662.84 361.5,662.65 363,662.47 364.5,662.28 366,662.1 367.5,661.91 369,661.73 370.5,661.56 372,661.38 373.5,661.21 375,661.04 376.5,660.88 378,660.71 379.5,660.55 381,660.39 382.5,660.23 384,660.08 385.5,659.93 387,659.78 388.5,659.63 390,659.49 391.5,659.34 393,659.2 394.5,659.07 396,658.93 397.5,658.8 399,658.67 400.5,658.54 402,658.42 403.5,658.3 405,658.18 406.5,658.06 408,657.95 409.5,657.84 411,657.73 412.5,657.62 414,657.52 415.5,657.42 417,657.32 418.5,657.23 420,657.13 421.5,657.04 423,656.96 424.5,656.87 426,656.79 427.5,656.71 429,656.63 430.5,656.56 432,656.49 433.5,656.42 435,656.35 436.5,656.29 438,656.23 439.5,656.17 441,656.12 442.5,656.06 444,656.01 445.5,655.97 447,655.92 448.5,655.88 450,655.84 451.5,655.81 453,655.78 454.5,655.75 456,655.72 457.5,655.69 459,655.67 460.5,655.65 462,655.64 463.5,655.63 465,655.62 466.5,655.61 468,655.6 469.5,655.6 471,655.6" stroke="#4BACC6"/>
<path d="M90,968.63 91.5,963.85 93,958.99 94.5,954.03 96,949 97.5,943.89 99,938.72 100.5,933.5 102,928.22 103.5,922.91 105,917.55 106.5,912.18 108,906.78 109.5,901.37 111,895.96 112.5,890.54 114,885.14 115.5,879.76 117,874.41 118.5,869.08 120,863.8 121.5,858.56 123,853.38 124.5,848.25 126,843.19 127.5,838.18 129,833.25 130.5,828.39 132,823.61 133.5,818.92 135,814.31 136.5,809.79 138,805.36 139.5,801.04 141,796.81 142.5,792.7 144,788.7 145.5,784.82 147,781.05 148.5,777.42 150,773.91 151.5,770.53 153,767.29 154.5,764.17 156,761.18 157.5,758.31 159,755.55 160.5,752.9 162,750.37 163.5,747.94 165,745.61 166.5,743.38 168,741.25 169.5,739.21 171,737.26 172.5,735.39 174,733.6 175.5,731.89 177,730.26 178.5,728.7 180,727.2 181.5,725.76 183,724.39 184.5,723.07 186,721.81 187.5,720.6 189,719.43 190.5,718.3 192,717.21 193.5,716.16 195,715.14 196.5,714.15 198,713.19 199.5,712.24 201,711.31 202.5,710.4 204,709.51 205.5,708.63 207,707.77 208.5,706.92 210,706.09 211.5,705.27 213,704.47 214.5,703.68 216,702.91 217.5,702.15 219,701.41 220.5,700.68 222,699.96 223.5,699.26 225,698.57 226.5,697.89 228,697.23 229.5,696.58 231,695.94 232.5,695.31 234,694.69 235.5,694.09 237,693.5 238.5,692.92 240,692.35 241.5,691.79 243,691.24 244.5,690.7 246,690.17 247.5,689.65 249,689.14 250.5,688.64 252,688.15 253.5,687.66 255,687.19 256.5,686.73 258,686.27 259.5,685.82 261,685.38 262.5,684.94 264,684.52 265.5,684.1 267,683.69 268.5,683.28 270,682.88 271.5,682.49 273,682.1 274.5,681.72 276,681.35 277.5,680.98 279,680.61 280.5,680.25 282,679.9 283.5,679.55 285,679.2 286.5,678.86 288,678.52 289.5,678.19 291,677.85 292.5,677.53 294,677.2 295.5,676.88 297,676.56 298.5,676.24 300,675.92 301.5,675.61 303,675.29 304.5,674.98 306,674.68 307.5,674.37 309,674.06 310.5,673.76 312,673.46 313.5,673.16 315,672.86 316.5,672.57 318,672.27 319.5,671.98 321,671.69 322.5,671.4 324,671.12 325.5,670.84 327,670.55 328.5,670.28 330,670 331.5,669.72 333,669.45 334.5,669.18 336,668.91 337.5,668.65 339,668.38 340.5,668.12 342,667.86 343.5,667.6 345,667.35 346.5,667.09 348,666.84 349.5,666.6 351,666.35 352.5,666.11 354,665.86 355.5,665.63 357,665.39 358.5,665.15 360,664.92 361.5,664.69 363,664.47 364.5,664.24 366,664.02 367.5,663.8 369,663.58 370.5,663.37 372,663.16 373.5,662.95 375,662.74 376.5,662.54 378,662.34 379.5,662.14 381,661.94 382.5,661.75 384,661.56 385.5,661.37 387,661.18 388.5,661 390,660.82 391.5,660.64 393,660.47 394.5,660.3 396,660.13 397.5,659.96 399,659.8 400.5,659.64 402,659.48 403.5,659.33 405,659.17 406.5,659.03 408,658.88 409.5,658.74 411,658.6 412.5,658.46 414,658.33 415.5,658.19 417,658.07 418.5,657.94 420,657.82 421.5,657.7 423,657.59 424.5,657.47 426,657.36 427.5,657.26 429,657.15 430.5,657.05 432,656.96 433.5,656.86 435,656.77 436.5,656.68 438,656.6 439.5,656.52 441,656.44 442.5,656.37 444,656.3 445.5,656.23 447,656.16 448.5,656.1 450,656.05 451.5,655.99 453,655.94 454.5,655.89 456,655.85 457.5,655.81 459,655.77 460.5,655.74 462,655.71 463.5,655.68 465,655.66 466.5,655.64 468,655.62 469.5,655.61 471,655.6" stroke="#F79646"/>
<path d="M90,975.91 91.5,971.36 93,966.66 94.5,961.84 96,956.89 97.5,951.83 99,946.67 100.5,941.42 102,936.09 103.5,930.69 105,925.24 106.5,919.74 108,914.2 109.5,908.64 111,903.06 112.5,897.48 114,891.91 115.5,886.35 117,880.82 118.5,875.33 120,869.88 121.5,864.5 123,859.17 124.5,853.92 126,848.73 127.5,843.63 129,838.6 130.5,833.65 132,828.79 133.5,824.02 135,819.35 136.5,814.78 138,810.3 139.5,805.94 141,801.69 142.5,797.55 144,793.53 145.5,789.63 147,785.86 148.5,782.23 150,778.72 151.5,775.36 153,772.12 154.5,769.02 156,766.05 157.5,763.2 159,760.47 160.5,757.86 162,755.36 163.5,752.97 165,750.68 166.5,748.5 168,746.41 169.5,744.41 171,742.51 172.5,740.69 174,738.95 175.5,737.29 177,735.71 178.5,734.2 180,732.75 181.5,731.37 183,730.05 184.5,728.78 186,727.57 187.5,726.4 189,725.28 190.5,724.2 192,723.16 193.5,722.15 195,721.17 196.5,720.21 198,719.28 199.5,718.37 201,717.47 202.5,716.58 204,715.71 205.5,714.85 207,714 208.5,713.17 210,712.34 211.5,711.53 213,710.73 214.5,709.95 216,709.17 217.5,708.41 219,707.66 220.5,706.91 222,706.18 223.5,705.47 225,704.76 226.5,704.06 228,703.37 229.5,702.7 231,702.03 232.5,701.37 234,700.72 235.5,700.09 237,699.46 238.5,698.84 240,698.23 241.5,697.63 243,697.04 244.5,696.45 246,695.88 247.5,695.31 249,694.75 250.5,694.2 252,693.66 253.5,693.13 255,692.6 256.5,692.08 258,691.57 259.5,691.06 261,690.56 262.5,690.07 264,689.59 265.5,689.11 267,688.64 268.5,688.17 270,687.71 271.5,687.25 273,686.81 274.5,686.36 276,685.92 277.5,685.49 279,685.06 280.5,684.64 282,684.22 283.5,683.81 285,683.4 286.5,682.99 288,682.59 289.5,682.19 291,681.8 292.5,681.41 294,681.02 295.5,680.63 297,680.25 298.5,679.88 300,679.5 301.5,679.13 303,678.76 304.5,678.39 306,678.03 307.5,677.66 309,677.3 310.5,676.95 312,676.59 313.5,676.24 315,675.89 316.5,675.54 318,675.2 319.5,674.86 321,674.52 322.5,674.19 324,673.85 325.5,673.52 327,673.19 328.5,672.87 330,672.55 331.5,672.23 333,671.91 334.5,671.6 336,671.29 337.5,670.98 339,670.67 340.5,670.37 342,670.07 343.5,669.77 345,669.48 346.5,669.19 348,668.9 349.5,668.61 351,668.33 352.5,668.05 354,667.77 355.5,667.5 357,667.23 358.5,666.96 360,666.69 361.5,666.43 363,666.17 364.5,665.91 366,665.66 367.5,665.4 369,665.16 370.5,664.91 372,664.67 373.5,664.43 375,664.19 376.5,663.96 378,663.73 379.5,663.5 381,663.28 382.5,663.06 384,662.84 385.5,662.62 387,662.41 388.5,662.2 390,661.99 391.5,661.79 393,661.59 394.5,661.39 396,661.2 397.5,661.01 399,660.82 400.5,660.63 402,660.45 403.5,660.27 405,660.1 406.5,659.93 408,659.76 409.5,659.59 411,659.43 412.5,659.27 414,659.11 415.5,658.96 417,658.81 418.5,658.66 420,658.52 421.5,658.38 423,658.24 424.5,658.11 426,657.98 427.5,657.85 429,657.73 430.5,657.6 432,657.49 433.5,657.37 435,657.26 436.5,657.15 438,657.05 439.5,656.95 441,656.85 442.5,656.75 444,656.66 445.5,656.58 447,656.49 448.5,656.41 450,656.33 451.5,656.26 453,656.19 454.5,656.12 456,656.06 457.5,655.99 459,655.94 460.5,655.88 462,655.83 463.5,655.79 465,655.74 466.5,655.7 468,655.67 469.5,655.63 471,655.6" stroke="#1F497D"/>
</g>
<path d="M90 654.9V1014H471.7" fill="none" stroke="#000" stroke-width="2"/>
<path d="M90 999.07h4.3M90 984.13h4.3M90 969.2h4.3M90 954.27h4.3M90 939.33h4.3M90 924.4h4.3M90 909.47h4.3M90 894.53h4.3M90 879.6h4.3M90 864.67h4.3M90 849.73h4.3M90 834.8h4.3M90 819.87h4.3M90 804.93h4.3M90 790h4.3M90 775.07h4.3M90 760.13h4.3M90 745.2h4.3M90 730.27h4.3M90 715.33h4.3M90 700.4h4.3M90 685.47h4.3M90 670.53h4.3M121.75 1014v-4.3M153.5 1014v-4.3M185.25 1014v-4.3M217 1014v-4.3M248.75 1014v-4.3M280.5 1014v-4.3M312.25 1014v-4.3M344 1014v-4.3M375.75 1014v-4.3M407.5 1014v-4.3M439.25 1014v-4.3M471 1014v-4.3" stroke="#000" stroke-width="1.6" fill="none"/>
<text x="73" y="659.9" text-anchor="end" font-family='"Liberation Sans", sans-serif' font-size="12" fill="#000">100</text>
<text x="73" y="719.63" text-anchor="end" font-family='"Liberation Sans", sans-serif' font-size="12" fill="#000">96</text>
<text x="73" y="779.37" text-anchor="end" font-family='"Liberation Sans", sans-serif' font-size="12" fill="#000">92</text>
<text x="73" y="839.1" text-anchor="end" font-family='"Liberation Sans", sans-serif' font-size="12" fill="#000">88</text>
<text x="73" y="898.83" text-anchor="end" font-family='"Liberation Sans", sans-serif' font-size="12" fill="#000">84</text>
<text x="73" y="958.57" text-anchor="end" font-family='"Liberation Sans", sans-serif' font-size="12" fill="#000">80</text>
<text x="73" y="1018.3" text-anchor="end" font-family='"Liberation Sans", sans-serif' font-size="12" fill="#000">76</text>
<text x="90" y="1036.5" text-anchor="middle" font-family='"Liberation Sans", sans-serif' font-size="12.4" fill="#000">1</text>
<text x="153.5" y="1036.5" text-anchor="middle" font-family='"Liberation Sans", sans-serif' font-size="12.4" fill="#000">10<tspan font-size="15.5" dy="2.6">^</tspan><tspan dy="-2.6">1</tspan></text>
<text x="217" y="1036.5" text-anchor="middle" font-family='"Liberation Sans", sans-serif' font-size="12.4" fill="#000">10<tspan font-size="15.5" dy="2.6">^</tspan><tspan dy="-2.6">2</tspan></text>
<text x="280.5" y="1036.5" text-anchor="middle" font-family='"Liberation Sans", sans-serif' font-size="12.4" fill="#000">10<tspan font-size="15.5" dy="2.6">^</tspan><tspan dy="-2.6">3</tspan></text>
<text x="344" y="1036.5" text-anchor="middle" font-family='"Liberation Sans", sans-serif' font-size="12.4" fill="#000">10<tspan font-size="15.5" dy="2.6">^</tspan><tspan dy="-2.6">4</tspan></text>
<text x="407.5" y="1036.5" text-anchor="middle" font-family='"Liberation Sans", sans-serif' font-size="12.4" fill="#000">10<tspan font-size="15.5" dy="2.6">^</tspan><tspan dy="-2.6">5</tspan></text>
<text x="471" y="1036.5" text-anchor="middle" font-family='"Liberation Sans", sans-serif' font-size="12.4" fill="#000">10<tspan font-size="15.5" dy="2.6">^</tspan><tspan dy="-2.6">6</tspan></text>
<text x="280.4" y="1066.25" text-anchor="middle" font-family='"Liberation Serif", serif' font-size="22" fill="#000">Rank</text>
<text transform="translate(42.6 835.2) rotate(-90)" x="0" y="0" text-anchor="middle" font-family='"Liberation Serif", serif' font-size="22.1" fill="#000">Identification Rate (%)</text>
<rect x="237.1" y="837.1" width="218.1" height="158.7" fill="#fff" stroke="#000" stroke-width="1.5"/>
<path d="M263.1 848.3H294.8" stroke="#4F81BD" stroke-width="2.6" stroke-linecap="butt"/>
<text x="297.9" y="853.46" font-family='"Liberation Serif", serif' font-size="15.65" fill="#000">ACNN-Res50 (ours)</text>
<path d="M263.1 871H294.8" stroke="#C0504D" stroke-width="2.6" stroke-linecap="butt"/>
<text x="297.9" y="876.16" font-family='"Liberation Serif", serif' font-size="15.65" fill="#000">ArcFace</text>
<path d="M263.1 893.7H294.8" stroke="#9BBB59" stroke-width="2.6" stroke-linecap="butt"/>
<text x="297.9" y="898.86" font-family='"Liberation Serif", serif' font-size="15.65" fill="#000">AM-Softmax</text>
<path d="M263.1 916.4H294.8" stroke="#8064A2" stroke-width="2.6" stroke-linecap="butt"/>
<text x="297.9" y="921.56" font-family='"Liberation Serif", serif' font-size="15.65" fill="#000">SphereFace</text>
<path d="M263.1 939.1H294.8" stroke="#4BACC6" stroke-width="2.6" stroke-linecap="butt"/>
<text x="297.9" y="944.26" font-family='"Liberation Serif", serif' font-size="15.65" fill="#000">Center Loss</text>
<path d="M263.1 961.8H294.8" stroke="#F79646" stroke-width="2.6" stroke-linecap="butt"/>
<text x="297.9" y="966.96" font-family='"Liberation Serif", serif' font-size="15.65" fill="#000">Triplet Loss</text>
<path d="M263.1 984.5H294.8" stroke="#1F497D" stroke-width="2.6" stroke-linecap="butt"/>
<text x="297.9" y="989.66" font-family='"Liberation Serif", serif' font-size="15.65" fill="#000">Constrasitive Loss</text>
<text transform="translate(0.18 1141.8) scale(1.0166 1)" x="0" y="0" font-family='"Liberation Serif", serif' font-size="38.5" fill="#000">(c)</text>
<text transform="translate(61.66 1141.8) scale(1.1169 1)" x="0" y="0" font-family='"Liberation Serif", serif' font-size="38.5" fill="#000">CMC Under Small Protocol</text>
<rect x="663.75" y="601" width="535" height="495.25" fill="none" stroke="#d6d6d0" stroke-width="1.5"/>
<text x="809.3" y="641.3" font-family='"Liberation Serif", serif' font-size="22" fill="#000">Verification with 1M Distractors</text>
<path d="M752.5 673.75H1117" fill="none" stroke="#000" stroke-width="1.9"/>
<path d="M1117 673.75V1016.2" fill="none" stroke="#3a3a40" stroke-width="1.8"/>
<clipPath id="clipd"><rect x="752.5" y="671.75" width="366.5" height="344.45"/></clipPath>
<g clip-path="url(#clipd)" fill="none" stroke-width="2.4" stroke-linejoin="round" stroke-linecap="round">
<path d="M752.5,787.85 754,785.66 755.5,783.48 757,781.31 758.5,779.14 760,776.98 761.5,774.83 763,772.69 764.5,770.57 766,768.45 767.5,766.35 769,764.26 770.5,762.19 772,760.14 773.5,758.1 775,756.08 776.5,754.08 778,752.1 779.5,750.14 781,748.2 782.5,746.29 784,744.4 785.5,742.54 787,740.7 788.5,738.89 790,737.11 791.5,735.35 793,733.63 794.5,731.94 796,730.27 797.5,728.65 799,727.05 800.5,725.49 802,723.97 803.5,722.49 805,721.04 806.5,719.63 808,718.26 809.5,716.92 811,715.63 812.5,714.37 814,713.14 815.5,711.95 817,710.8 818.5,709.67 820,708.58 821.5,707.53 823,706.5 824.5,705.51 826,704.54 827.5,703.6 829,702.7 830.5,701.82 832,700.96 833.5,700.14 835,699.34 836.5,698.56 838,697.81 839.5,697.09 841,696.39 842.5,695.71 844,695.05 845.5,694.42 847,693.81 848.5,693.22 850,692.65 851.5,692.1 853,691.57 854.5,691.06 856,690.58 857.5,690.11 859,689.65 860.5,689.22 862,688.8 863.5,688.4 865,688.02 866.5,687.65 868,687.3 869.5,686.96 871,686.64 872.5,686.34 874,686.04 875.5,685.76 877,685.49 878.5,685.24 880,685 881.5,684.77 883,684.55 884.5,684.34 886,684.14 887.5,683.95 889,683.77 890.5,683.6 892,683.43 893.5,683.28 895,683.13 896.5,682.99 898,682.86 899.5,682.73 901,682.61 902.5,682.49 904,682.38 905.5,682.28 907,682.17 908.5,682.07 910,681.98 911.5,681.88 913,681.79 914.5,681.7 916,681.61 917.5,681.52 919,681.43 920.5,681.34 922,681.26 923.5,681.17 925,681.08 926.5,680.99 928,680.9 929.5,680.81 931,680.72 932.5,680.62 934,680.53 935.5,680.44 937,680.35 938.5,680.26 940,680.16 941.5,680.07 943,679.98 944.5,679.89 946,679.79 947.5,679.7 949,679.61 950.5,679.51 952,679.42 953.5,679.33 955,679.23 956.5,679.14 958,679.05 959.5,678.96 961,678.86 962.5,678.77 964,678.68 965.5,678.58 967,678.49 968.5,678.4 970,678.31 971.5,678.22 973,678.13 974.5,678.04 976,677.94 977.5,677.85 979,677.76 980.5,677.67 982,677.59 983.5,677.5 985,677.41 986.5,677.32 988,677.23 989.5,677.15 991,677.06 992.5,676.97 994,676.89 995.5,676.8 997,676.72 998.5,676.64 1000,676.55 1001.5,676.47 1003,676.39 1004.5,676.31 1006,676.23 1007.5,676.15 1009,676.07 1010.5,675.99 1012,675.91 1013.5,675.84 1015,675.76 1016.5,675.69 1018,675.61 1019.5,675.54 1021,675.47 1022.5,675.4 1024,675.33 1025.5,675.26 1027,675.19 1028.5,675.13 1030,675.06 1031.5,675 1033,674.93 1034.5,674.87 1036,674.81 1037.5,674.75 1039,674.69 1040.5,674.63 1042,674.57 1043.5,674.52 1045,674.46 1046.5,674.41 1048,674.36 1049.5,674.31 1051,674.26 1052.5,674.21 1054,674.17 1055.5,674.12 1057,674.08 1058.5,674.04 1060,674 1061.5,673.96 1063,673.92 1064.5,673.89 1066,673.85 1067.5,673.82 1069,673.79 1070.5,673.76 1072,673.73 1073.5,673.7 1075,673.68 1076.5,673.66 1078,673.64 1079.5,673.62 1081,673.6 1082.5,673.58 1084,673.57 1085.5,673.56 1087,673.55 1088.5,673.54 1090,673.53 1091.5,673.53 1093,673.52 1094.5,673.52 1096,673.52 1097.5,673.53 1099,673.53 1100.5,673.54 1102,673.55 1103.5,673.56 1105,673.57 1106.5,673.59 1108,673.61 1109.5,673.63 1111,673.65 1112.5,673.67 1114,673.7 1115.5,673.73 1117,673.76" stroke="#4F81BD"/>
<path d="M752.5,812.72 754,810.16 755.5,807.6 757,805.03 758.5,802.45 760,799.88 761.5,797.3 763,794.73 764.5,792.16 766,789.6 767.5,787.05 769,784.5 770.5,781.97 772,779.44 773.5,776.94 775,774.45 776.5,771.98 778,769.53 779.5,767.1 781,764.69 782.5,762.31 784,759.96 785.5,757.64 787,755.34 788.5,753.08 790,750.86 791.5,748.67 793,746.52 794.5,744.41 796,742.35 797.5,740.32 799,738.35 800.5,736.41 802,734.53 803.5,732.7 805,730.93 806.5,729.2 808,727.53 809.5,725.91 811,724.35 812.5,722.83 814,721.36 815.5,719.94 817,718.56 818.5,717.23 820,715.94 821.5,714.69 823,713.49 824.5,712.32 826,711.19 827.5,710.1 829,709.05 830.5,708.03 832,707.04 833.5,706.09 835,705.16 836.5,704.27 838,703.4 839.5,702.56 841,701.75 842.5,700.97 844,700.21 845.5,699.48 847,698.78 848.5,698.09 850,697.44 851.5,696.8 853,696.19 854.5,695.61 856,695.04 857.5,694.5 859,693.98 860.5,693.47 862,692.99 863.5,692.53 865,692.09 866.5,691.66 868,691.25 869.5,690.87 871,690.49 872.5,690.14 874,689.8 875.5,689.47 877,689.16 878.5,688.86 880,688.58 881.5,688.31 883,688.06 884.5,687.81 886,687.58 887.5,687.36 889,687.14 890.5,686.94 892,686.75 893.5,686.57 895,686.39 896.5,686.23 898,686.07 899.5,685.91 901,685.77 902.5,685.63 904,685.49 905.5,685.36 907,685.23 908.5,685.11 910,684.99 911.5,684.87 913,684.75 914.5,684.64 916,684.53 917.5,684.41 919,684.3 920.5,684.19 922,684.07 923.5,683.96 925,683.84 926.5,683.73 928,683.61 929.5,683.49 931,683.37 932.5,683.25 934,683.13 935.5,683.01 937,682.88 938.5,682.76 940,682.64 941.5,682.52 943,682.39 944.5,682.27 946,682.14 947.5,682.02 949,681.89 950.5,681.76 952,681.64 953.5,681.51 955,681.38 956.5,681.26 958,681.13 959.5,681 961,680.87 962.5,680.75 964,680.62 965.5,680.49 967,680.36 968.5,680.23 970,680.11 971.5,679.98 973,679.85 974.5,679.73 976,679.6 977.5,679.47 979,679.35 980.5,679.22 982,679.1 983.5,678.97 985,678.85 986.5,678.73 988,678.6 989.5,678.48 991,678.36 992.5,678.24 994,678.12 995.5,678 997,677.88 998.5,677.76 1000,677.64 1001.5,677.52 1003,677.41 1004.5,677.29 1006,677.18 1007.5,677.07 1009,676.95 1010.5,676.84 1012,676.73 1013.5,676.62 1015,676.52 1016.5,676.41 1018,676.3 1019.5,676.2 1021,676.1 1022.5,676 1024,675.9 1025.5,675.8 1027,675.7 1028.5,675.6 1030,675.51 1031.5,675.42 1033,675.33 1034.5,675.24 1036,675.15 1037.5,675.06 1039,674.98 1040.5,674.89 1042,674.81 1043.5,674.73 1045,674.66 1046.5,674.58 1048,674.51 1049.5,674.43 1051,674.36 1052.5,674.3 1054,674.23 1055.5,674.17 1057,674.11 1058.5,674.05 1060,673.99 1061.5,673.93 1063,673.88 1064.5,673.83 1066,673.78 1067.5,673.74 1069,673.69 1070.5,673.65 1072,673.61 1073.5,673.58 1075,673.54 1076.5,673.51 1078,673.48 1079.5,673.46 1081,673.43 1082.5,673.41 1084,673.4 1085.5,673.38 1087,673.37 1088.5,673.36 1090,673.35 1091.5,673.35 1093,673.35 1094.5,673.35 1096,673.35 1097.5,673.36 1099,673.37 1100.5,673.39 1102,673.41 1103.5,673.43 1105,673.45 1106.5,673.48 1108,673.51 1109.5,673.54 1111,673.58 1112.5,673.62 1114,673.66 1115.5,673.71 1117,673.76" stroke="#C0504D"/>
<path d="M752.5,824.31 754,821.71 755.5,819.09 757,816.46 758.5,813.81 760,811.15 761.5,808.47 763,805.79 764.5,803.11 766,800.42 767.5,797.73 769,795.04 770.5,792.36 772,789.68 773.5,787.01 775,784.35 776.5,781.71 778,779.08 779.5,776.48 781,773.89 782.5,771.33 784,768.79 785.5,766.28 787,763.8 788.5,761.36 790,758.95 791.5,756.58 793,754.25 794.5,751.96 796,749.71 797.5,747.52 799,745.37 800.5,743.28 802,741.24 803.5,739.26 805,737.34 806.5,735.48 808,733.68 809.5,731.94 811,730.25 812.5,728.62 814,727.05 815.5,725.53 817,724.06 818.5,722.64 820,721.26 821.5,719.93 823,718.65 824.5,717.41 826,716.21 827.5,715.05 829,713.93 830.5,712.85 832,711.8 833.5,710.78 835,709.8 836.5,708.84 838,707.92 839.5,707.02 841,706.15 842.5,705.31 844,704.49 845.5,703.71 847,702.94 848.5,702.21 850,701.49 851.5,700.81 853,700.14 854.5,699.5 856,698.88 857.5,698.28 859,697.71 860.5,697.15 862,696.62 863.5,696.11 865,695.61 866.5,695.13 868,694.68 869.5,694.24 871,693.82 872.5,693.41 874,693.02 875.5,692.65 877,692.29 878.5,691.95 880,691.62 881.5,691.3 883,691 884.5,690.71 886,690.43 887.5,690.16 889,689.91 890.5,689.66 892,689.43 893.5,689.2 895,688.99 896.5,688.78 898,688.58 899.5,688.38 901,688.2 902.5,688.01 904,687.84 905.5,687.67 907,687.5 908.5,687.34 910,687.19 911.5,687.03 913,686.88 914.5,686.73 916,686.58 917.5,686.43 919,686.29 920.5,686.14 922,685.99 923.5,685.84 925,685.69 926.5,685.54 928,685.39 929.5,685.24 931,685.09 932.5,684.94 934,684.79 935.5,684.64 937,684.49 938.5,684.34 940,684.19 941.5,684.04 943,683.89 944.5,683.73 946,683.58 947.5,683.43 949,683.28 950.5,683.13 952,682.98 953.5,682.83 955,682.67 956.5,682.52 958,682.37 959.5,682.22 961,682.07 962.5,681.92 964,681.77 965.5,681.63 967,681.48 968.5,681.33 970,681.18 971.5,681.03 973,680.89 974.5,680.74 976,680.6 977.5,680.45 979,680.31 980.5,680.16 982,680.02 983.5,679.88 985,679.74 986.5,679.6 988,679.46 989.5,679.32 991,679.18 992.5,679.04 994,678.91 995.5,678.77 997,678.64 998.5,678.5 1000,678.37 1001.5,678.24 1003,678.11 1004.5,677.98 1006,677.85 1007.5,677.73 1009,677.6 1010.5,677.48 1012,677.36 1013.5,677.23 1015,677.11 1016.5,677 1018,676.88 1019.5,676.76 1021,676.65 1022.5,676.54 1024,676.43 1025.5,676.32 1027,676.21 1028.5,676.1 1030,676 1031.5,675.89 1033,675.79 1034.5,675.69 1036,675.6 1037.5,675.5 1039,675.41 1040.5,675.31 1042,675.22 1043.5,675.13 1045,675.05 1046.5,674.96 1048,674.88 1049.5,674.8 1051,674.72 1052.5,674.64 1054,674.57 1055.5,674.5 1057,674.43 1058.5,674.36 1060,674.29 1061.5,674.23 1063,674.17 1064.5,674.11 1066,674.06 1067.5,674 1069,673.95 1070.5,673.9 1072,673.86 1073.5,673.81 1075,673.77 1076.5,673.73 1078,673.69 1079.5,673.66 1081,673.63 1082.5,673.6 1084,673.58 1085.5,673.55 1087,673.53 1088.5,673.52 1090,673.5 1091.5,673.49 1093,673.48 1094.5,673.48 1096,673.47 1097.5,673.47 1099,673.48 1100.5,673.48 1102,673.49 1103.5,673.5 1105,673.52 1106.5,673.54 1108,673.56 1109.5,673.59 1111,673.61 1112.5,673.65 1114,673.68 1115.5,673.72 1117,673.76" stroke="#9BBB59"/>
<path d="M752.5,834.33 754,831.47 755.5,828.61 757,825.74 758.5,822.87 760,820 761.5,817.13 763,814.26 764.5,811.4 766,808.55 767.5,805.7 769,802.87 770.5,800.05 772,797.25 773.5,794.46 775,791.69 776.5,788.94 778,786.21 779.5,783.5 781,780.83 782.5,778.18 784,775.56 785.5,772.97 787,770.42 788.5,767.9 790,765.42 791.5,762.98 793,760.58 794.5,758.22 796,755.91 797.5,753.65 799,751.43 800.5,749.27 802,747.16 803.5,745.1 805,743.1 806.5,741.16 808,739.27 809.5,737.44 811,735.67 812.5,733.94 814,732.27 815.5,730.65 817,729.09 818.5,727.56 820,726.09 821.5,724.66 823,723.28 824.5,721.94 826,720.64 827.5,719.38 829,718.16 830.5,716.98 832,715.84 833.5,714.73 835,713.66 836.5,712.62 838,711.61 839.5,710.64 841,709.69 842.5,708.78 844,707.89 845.5,707.04 847,706.21 848.5,705.41 850,704.64 851.5,703.89 853,703.18 854.5,702.48 856,701.81 857.5,701.17 859,700.55 860.5,699.95 862,699.38 863.5,698.82 865,698.29 866.5,697.78 868,697.29 869.5,696.82 871,696.37 872.5,695.94 874,695.52 875.5,695.12 877,694.74 878.5,694.38 880,694.03 881.5,693.69 883,693.37 884.5,693.06 886,692.77 887.5,692.49 889,692.22 890.5,691.96 892,691.71 893.5,691.47 895,691.24 896.5,691.02 898,690.81 899.5,690.61 901,690.41 902.5,690.22 904,690.03 905.5,689.85 907,689.68 908.5,689.51 910,689.34 911.5,689.18 913,689.02 914.5,688.86 916,688.7 917.5,688.54 919,688.38 920.5,688.22 922,688.06 923.5,687.9 925,687.74 926.5,687.58 928,687.41 929.5,687.25 931,687.08 932.5,686.91 934,686.75 935.5,686.58 937,686.41 938.5,686.24 940,686.07 941.5,685.9 943,685.73 944.5,685.56 946,685.39 947.5,685.22 949,685.04 950.5,684.87 952,684.7 953.5,684.53 955,684.35 956.5,684.18 958,684.01 959.5,683.83 961,683.66 962.5,683.49 964,683.31 965.5,683.14 967,682.97 968.5,682.8 970,682.62 971.5,682.45 973,682.28 974.5,682.11 976,681.94 977.5,681.77 979,681.6 980.5,681.43 982,681.26 983.5,681.09 985,680.93 986.5,680.76 988,680.59 989.5,680.43 991,680.26 992.5,680.1 994,679.94 995.5,679.78 997,679.62 998.5,679.46 1000,679.3 1001.5,679.14 1003,678.99 1004.5,678.83 1006,678.68 1007.5,678.53 1009,678.38 1010.5,678.23 1012,678.08 1013.5,677.93 1015,677.79 1016.5,677.64 1018,677.5 1019.5,677.36 1021,677.22 1022.5,677.09 1024,676.95 1025.5,676.82 1027,676.69 1028.5,676.56 1030,676.43 1031.5,676.31 1033,676.18 1034.5,676.06 1036,675.94 1037.5,675.82 1039,675.71 1040.5,675.6 1042,675.49 1043.5,675.38 1045,675.27 1046.5,675.17 1048,675.07 1049.5,674.97 1051,674.87 1052.5,674.78 1054,674.69 1055.5,674.6 1057,674.51 1058.5,674.43 1060,674.35 1061.5,674.27 1063,674.2 1064.5,674.13 1066,674.06 1067.5,673.99 1069,673.93 1070.5,673.87 1072,673.81 1073.5,673.76 1075,673.71 1076.5,673.66 1078,673.62 1079.5,673.58 1081,673.54 1082.5,673.51 1084,673.48 1085.5,673.45 1087,673.43 1088.5,673.41 1090,673.39 1091.5,673.38 1093,673.37 1094.5,673.37 1096,673.36 1097.5,673.37 1099,673.37 1100.5,673.38 1102,673.4 1103.5,673.42 1105,673.44 1106.5,673.46 1108,673.49 1109.5,673.53 1111,673.57 1112.5,673.61 1114,673.66 1115.5,673.71 1117,673.76" stroke="#8064A2"/>
<path d="M752.5,932.5 754,927.93 755.5,923.27 757,918.55 758.5,913.75 760,908.9 761.5,904 763,899.04 764.5,894.05 766,889.01 767.5,883.95 769,878.87 770.5,873.76 772,868.64 773.5,863.52 775,858.4 776.5,853.28 778,848.17 779.5,843.09 781,838.02 782.5,832.99 784,827.99 785.5,823.03 787,818.11 788.5,813.24 790,808.42 791.5,803.66 793,798.95 794.5,794.31 796,789.73 797.5,785.22 799,780.78 800.5,776.43 802,772.22 803.5,768.17 805,764.3 806.5,760.66 808,757.24 809.5,754.02 811,751 812.5,748.17 814,745.52 815.5,743.04 817,740.71 818.5,738.54 820,736.51 821.5,734.61 823,732.84 824.5,731.17 826,729.61 827.5,728.14 829,726.76 830.5,725.45 832,724.21 833.5,723.02 835,721.88 836.5,720.77 838,719.7 839.5,718.65 841,717.64 842.5,716.65 844,715.69 845.5,714.76 847,713.86 848.5,712.98 850,712.13 851.5,711.31 853,710.51 854.5,709.73 856,708.98 857.5,708.25 859,707.54 860.5,706.86 862,706.2 863.5,705.56 865,704.94 866.5,704.34 868,703.76 869.5,703.2 871,702.65 872.5,702.13 874,701.62 875.5,701.13 877,700.66 878.5,700.2 880,699.76 881.5,699.33 883,698.92 884.5,698.52 886,698.13 887.5,697.76 889,697.39 890.5,697.04 892,696.7 893.5,696.38 895,696.06 896.5,695.75 898,695.45 899.5,695.16 901,694.87 902.5,694.6 904,694.33 905.5,694.06 907,693.81 908.5,693.56 910,693.31 911.5,693.06 913,692.82 914.5,692.59 916,692.35 917.5,692.12 919,691.89 920.5,691.66 922,691.43 923.5,691.2 925,690.98 926.5,690.75 928,690.52 929.5,690.3 931,690.07 932.5,689.85 934,689.63 935.5,689.4 937,689.18 938.5,688.96 940,688.74 941.5,688.52 943,688.3 944.5,688.08 946,687.87 947.5,687.65 949,687.44 950.5,687.22 952,687.01 953.5,686.8 955,686.59 956.5,686.38 958,686.17 959.5,685.96 961,685.75 962.5,685.55 964,685.34 965.5,685.14 967,684.94 968.5,684.74 970,684.54 971.5,684.34 973,684.14 974.5,683.94 976,683.75 977.5,683.56 979,683.36 980.5,683.17 982,682.98 983.5,682.79 985,682.61 986.5,682.42 988,682.24 989.5,682.06 991,681.87 992.5,681.7 994,681.52 995.5,681.34 997,681.17 998.5,680.99 1000,680.82 1001.5,680.65 1003,680.48 1004.5,680.31 1006,680.15 1007.5,679.98 1009,679.82 1010.5,679.66 1012,679.5 1013.5,679.35 1015,679.19 1016.5,679.04 1018,678.89 1019.5,678.74 1021,678.59 1022.5,678.44 1024,678.3 1025.5,678.15 1027,678.01 1028.5,677.88 1030,677.74 1031.5,677.6 1033,677.47 1034.5,677.34 1036,677.21 1037.5,677.08 1039,676.96 1040.5,676.84 1042,676.72 1043.5,676.6 1045,676.48 1046.5,676.37 1048,676.26 1049.5,676.15 1051,676.04 1052.5,675.93 1054,675.83 1055.5,675.73 1057,675.63 1058.5,675.53 1060,675.44 1061.5,675.35 1063,675.26 1064.5,675.17 1066,675.09 1067.5,675.01 1069,674.93 1070.5,674.85 1072,674.77 1073.5,674.7 1075,674.63 1076.5,674.56 1078,674.5 1079.5,674.44 1081,674.38 1082.5,674.32 1084,674.26 1085.5,674.21 1087,674.16 1088.5,674.12 1090,674.07 1091.5,674.03 1093,673.99 1094.5,673.96 1096,673.92 1097.5,673.89 1099,673.87 1100.5,673.84 1102,673.82 1103.5,673.8 1105,673.78 1106.5,673.77 1108,673.76 1109.5,673.75 1111,673.75 1112.5,673.75 1114,673.75 1115.5,673.75 1117,673.76" stroke="#4BACC6"/>
<path d="M752.5,948.9 754,946.83 755.5,944.28 757,941.29 758.5,937.89 760,934.12 761.5,930 763,925.57 764.5,920.86 766,915.91 767.5,910.73 769,905.38 770.5,899.87 772,894.25 773.5,888.53 775,882.77 776.5,876.98 778,871.2 779.5,865.46 781,859.79 782.5,854.24 784,848.81 785.5,843.53 787,838.38 788.5,833.34 790,828.41 791.5,823.56 793,818.8 794.5,814.1 796,809.45 797.5,804.84 799,800.26 800.5,795.73 802,791.29 803.5,786.99 805,782.86 806.5,778.94 808,775.23 809.5,771.72 811,768.4 812.5,765.26 814,762.3 815.5,759.49 817,756.85 818.5,754.35 820,751.99 821.5,749.76 823,747.65 824.5,745.66 826,743.77 827.5,741.97 829,740.26 830.5,738.63 832,737.06 833.5,735.56 835,734.11 836.5,732.7 838,731.33 839.5,730 841,728.7 842.5,727.43 844,726.2 845.5,725.01 847,723.85 848.5,722.72 850,721.62 851.5,720.55 853,719.52 854.5,718.51 856,717.54 857.5,716.59 859,715.67 860.5,714.78 862,713.92 863.5,713.08 865,712.27 866.5,711.48 868,710.72 869.5,709.98 871,709.26 872.5,708.57 874,707.9 875.5,707.25 877,706.63 878.5,706.02 880,705.43 881.5,704.86 883,704.31 884.5,703.78 886,703.26 887.5,702.76 889,702.28 890.5,701.81 892,701.36 893.5,700.92 895,700.49 896.5,700.08 898,699.68 899.5,699.29 901,698.91 902.5,698.54 904,698.18 905.5,697.83 907,697.49 908.5,697.15 910,696.83 911.5,696.51 913,696.19 914.5,695.88 916,695.58 917.5,695.28 919,694.98 920.5,694.68 922,694.39 923.5,694.1 925,693.82 926.5,693.53 928,693.25 929.5,692.97 931,692.69 932.5,692.42 934,692.14 935.5,691.87 937,691.6 938.5,691.34 940,691.07 941.5,690.81 943,690.55 944.5,690.29 946,690.04 947.5,689.79 949,689.54 950.5,689.29 952,689.04 953.5,688.8 955,688.56 956.5,688.32 958,688.08 959.5,687.85 961,687.61 962.5,687.38 964,687.15 965.5,686.93 967,686.7 968.5,686.48 970,686.26 971.5,686.04 973,685.83 974.5,685.61 976,685.4 977.5,685.19 979,684.99 980.5,684.78 982,684.58 983.5,684.38 985,684.18 986.5,683.98 988,683.78 989.5,683.59 991,683.4 992.5,683.21 994,683.02 995.5,682.84 997,682.66 998.5,682.48 1000,682.3 1001.5,682.12 1003,681.94 1004.5,681.77 1006,681.6 1007.5,681.43 1009,681.26 1010.5,681.1 1012,680.93 1013.5,680.77 1015,680.61 1016.5,680.46 1018,680.3 1019.5,680.15 1021,679.99 1022.5,679.84 1024,679.69 1025.5,679.55 1027,679.4 1028.5,679.26 1030,679.12 1031.5,678.98 1033,678.84 1034.5,678.71 1036,678.57 1037.5,678.44 1039,678.31 1040.5,678.18 1042,678.05 1043.5,677.93 1045,677.8 1046.5,677.68 1048,677.56 1049.5,677.44 1051,677.33 1052.5,677.21 1054,677.1 1055.5,676.99 1057,676.88 1058.5,676.77 1060,676.66 1061.5,676.56 1063,676.45 1064.5,676.35 1066,676.25 1067.5,676.15 1069,676.06 1070.5,675.96 1072,675.87 1073.5,675.77 1075,675.68 1076.5,675.6 1078,675.51 1079.5,675.42 1081,675.34 1082.5,675.26 1084,675.17 1085.5,675.09 1087,675.02 1088.5,674.94 1090,674.86 1091.5,674.79 1093,674.72 1094.5,674.65 1096,674.58 1097.5,674.51 1099,674.44 1100.5,674.38 1102,674.32 1103.5,674.25 1105,674.19 1106.5,674.13 1108,674.08 1109.5,674.02 1111,673.96 1112.5,673.91 1114,673.86 1115.5,673.81 1117,673.76" stroke="#F79646"/>
<path d="M752.5,963.53 754,959.73 755.5,955.74 757,951.56 758.5,947.22 760,942.73 761.5,938.09 763,933.31 764.5,928.42 766,923.43 767.5,918.34 769,913.16 770.5,907.91 772,902.61 773.5,897.26 775,891.87 776.5,886.46 778,881.04 779.5,875.63 781,870.22 782.5,864.84 784,859.5 785.5,854.21 787,848.96 788.5,843.78 790,838.67 791.5,833.62 793,828.66 794.5,823.79 796,819.01 797.5,814.34 799,809.77 800.5,805.31 802,800.98 803.5,796.78 805,792.71 806.5,788.79 808,785.01 809.5,781.37 811,777.86 812.5,774.5 814,771.27 815.5,768.18 817,765.22 818.5,762.4 820,759.71 821.5,757.15 823,754.72 824.5,752.4 826,750.2 827.5,748.11 829,746.13 830.5,744.24 832,742.44 833.5,740.73 835,739.11 836.5,737.56 838,736.08 839.5,734.67 841,733.32 842.5,732.03 844,730.81 845.5,729.64 847,728.52 848.5,727.45 850,726.43 851.5,725.45 853,724.51 854.5,723.61 856,722.74 857.5,721.9 859,721.09 860.5,720.3 862,719.54 863.5,718.79 865,718.06 866.5,717.34 868,716.63 869.5,715.93 871,715.24 872.5,714.57 874,713.9 875.5,713.25 877,712.6 878.5,711.97 880,711.35 881.5,710.74 883,710.13 884.5,709.54 886,708.96 887.5,708.38 889,707.82 890.5,707.27 892,706.72 893.5,706.18 895,705.65 896.5,705.14 898,704.62 899.5,704.12 901,703.63 902.5,703.14 904,702.66 905.5,702.19 907,701.73 908.5,701.27 910,700.83 911.5,700.39 913,699.95 914.5,699.52 916,699.1 917.5,698.69 919,698.28 920.5,697.88 922,697.49 923.5,697.1 925,696.71 926.5,696.34 928,695.96 929.5,695.6 931,695.24 932.5,694.89 934,694.54 935.5,694.19 937,693.86 938.5,693.52 940,693.2 941.5,692.88 943,692.56 944.5,692.25 946,691.94 947.5,691.64 949,691.35 950.5,691.05 952,690.77 953.5,690.49 955,690.21 956.5,689.94 958,689.67 959.5,689.41 961,689.15 962.5,688.89 964,688.64 965.5,688.4 967,688.16 968.5,687.92 970,687.68 971.5,687.45 973,687.23 974.5,687.01 976,686.79 977.5,686.57 979,686.36 980.5,686.16 982,685.95 983.5,685.75 985,685.56 986.5,685.36 988,685.17 989.5,684.98 991,684.8 992.5,684.62 994,684.44 995.5,684.27 997,684.09 998.5,683.92 1000,683.76 1001.5,683.59 1003,683.43 1004.5,683.27 1006,683.12 1007.5,682.96 1009,682.81 1010.5,682.66 1012,682.51 1013.5,682.37 1015,682.23 1016.5,682.08 1018,681.95 1019.5,681.81 1021,681.67 1022.5,681.54 1024,681.41 1025.5,681.28 1027,681.15 1028.5,681.02 1030,680.89 1031.5,680.77 1033,680.65 1034.5,680.52 1036,680.4 1037.5,680.28 1039,680.16 1040.5,680.04 1042,679.93 1043.5,679.81 1045,679.7 1046.5,679.58 1048,679.47 1049.5,679.35 1051,679.24 1052.5,679.13 1054,679.01 1055.5,678.9 1057,678.79 1058.5,678.68 1060,678.57 1061.5,678.46 1063,678.34 1064.5,678.23 1066,678.12 1067.5,678.01 1069,677.9 1070.5,677.78 1072,677.67 1073.5,677.56 1075,677.44 1076.5,677.33 1078,677.21 1079.5,677.1 1081,676.98 1082.5,676.86 1084,676.74 1085.5,676.62 1087,676.5 1088.5,676.38 1090,676.26 1091.5,676.13 1093,676 1094.5,675.88 1096,675.75 1097.5,675.62 1099,675.49 1100.5,675.35 1102,675.22 1103.5,675.08 1105,674.94 1106.5,674.8 1108,674.66 1109.5,674.51 1111,674.36 1112.5,674.21 1114,674.06 1115.5,673.91 1117,673.75" stroke="#1F497D"/>
</g>
<path d="M752.5 673.05V1016.2H1117.7" fill="none" stroke="#000" stroke-width="2"/>
<path d="M752.5 1004.79h4.3M752.5 993.37h4.3M752.5 981.96h4.3M752.5 970.54h4.3M752.5 959.12h4.3M752.5 947.71h4.3M752.5 936.3h4.3M752.5 924.88h4.3M752.5 913.47h4.3M752.5 902.05h4.3M752.5 890.63h4.3M752.5 879.22h4.3M752.5 867.81h4.3M752.5 856.39h4.3M752.5 844.98h4.3M752.5 833.56h4.3M752.5 822.14h4.3M752.5 810.73h4.3M752.5 799.32h4.3M752.5 787.9h4.3M752.5 776.49h4.3M752.5 765.07h4.3M752.5 753.65h4.3M752.5 742.24h4.3M752.5 730.83h4.3M752.5 719.41h4.3M752.5 708h4.3M752.5 696.58h4.3M752.5 685.16h4.3M782.88 1016.2v-4.3M813.25 1016.2v-4.3M843.62 1016.2v-4.3M874 1016.2v-4.3M904.38 1016.2v-4.3M934.75 1016.2v-4.3M965.12 1016.2v-4.3M995.5 1016.2v-4.3M1025.88 1016.2v-4.3M1056.25 1016.2v-4.3M1086.62 1016.2v-4.3M1117 1016.2v-4.3" stroke="#000" stroke-width="1.6" fill="none"/>
<text x="736" y="678.05" text-anchor="end" font-family='"Liberation Sans", sans-serif' font-size="12" fill="#000">100</text>
<text x="736" y="735.12" text-anchor="end" font-family='"Liberation Sans", sans-serif' font-size="12" fill="#000">96</text>
<text x="736" y="792.2" text-anchor="end" font-family='"Liberation Sans", sans-serif' font-size="12" fill="#000">92</text>
<text x="736" y="849.27" text-anchor="end" font-family='"Liberation Sans", sans-serif' font-size="12" fill="#000">88</text>
<text x="736" y="906.35" text-anchor="end" font-family='"Liberation Sans", sans-serif' font-size="12" fill="#000">84</text>
<text x="736" y="963.42" text-anchor="end" font-family='"Liberation Sans", sans-serif' font-size="12" fill="#000">80</text>
<text x="736" y="1020.5" text-anchor="end" font-family='"Liberation Sans", sans-serif' font-size="12" fill="#000">76</text>
<text x="752.5" y="1039" text-anchor="middle" font-family='"Liberation Sans", sans-serif' font-size="12.4" fill="#000">10<tspan font-size="15.5" dy="2.6">^</tspan><tspan dy="-2.6">-6</tspan></text>
<text x="813.25" y="1039" text-anchor="middle" font-family='"Liberation Sans", sans-serif' font-size="12.4" fill="#000">10<tspan font-size="15.5" dy="2.6">^</tspan><tspan dy="-2.6">-5</tspan></text>
<text x="874" y="1039" text-anchor="middle" font-family='"Liberation Sans", sans-serif' font-size="12.4" fill="#000">10<tspan font-size="15.5" dy="2.6">^</tspan><tspan dy="-2.6">-4</tspan></text>
<text x="934.75" y="1039" text-anchor="middle" font-family='"Liberation Sans", sans-serif' font-size="12.4" fill="#000">10<tspan font-size="15.5" dy="2.6">^</tspan><tspan dy="-2.6">-3</tspan></text>
<text x="995.5" y="1039" text-anchor="middle" font-family='"Liberation Sans", sans-serif' font-size="12.4" fill="#000">10<tspan font-size="15.5" dy="2.6">^</tspan><tspan dy="-2.6">-2</tspan></text>
<text x="1056.25" y="1039" text-anchor="middle" font-family='"Liberation Sans", sans-serif' font-size="12.4" fill="#000">10<tspan font-size="15.5" dy="2.6">^</tspan><tspan dy="-2.6">-1</tspan></text>
<text x="1117" y="1039" text-anchor="middle" font-family='"Liberation Sans", sans-serif' font-size="12.4" fill="#000">1</text>
<text x="934.5" y="1067.7" text-anchor="middle" font-family='"Liberation Serif", serif' font-size="22" fill="#000">False Positive Rate (FPR)</text>
<text transform="translate(705 845) rotate(-90)" x="0" y="0" text-anchor="middle" font-family='"Liberation Serif", serif' font-size="21.6" fill="#000">True Positive Rat e (TPR, %)</text>
<rect x="899.4" y="845" width="203" height="152" fill="#fff" stroke="#000" stroke-width="1.5"/>
<path d="M925 856H956" stroke="#4F81BD" stroke-width="2.6" stroke-linecap="butt"/>
<text x="959.6" y="860.65" font-family='"Liberation Serif", serif' font-size="14.1" fill="#000">ACNN-Res50 (ours)</text>
<path d="M925 877.77H956" stroke="#C0504D" stroke-width="2.6" stroke-linecap="butt"/>
<text x="959.6" y="882.42" font-family='"Liberation Serif", serif' font-size="14.1" fill="#000">ArcFace</text>
<path d="M925 899.54H956" stroke="#9BBB59" stroke-width="2.6" stroke-linecap="butt"/>
<text x="959.6" y="904.19" font-family='"Liberation Serif", serif' font-size="14.1" fill="#000">AM-Softmax</text>
<path d="M925 921.31H956" stroke="#8064A2" stroke-width="2.6" stroke-linecap="butt"/>
<text x="959.6" y="925.96" font-family='"Liberation Serif", serif' font-size="14.1" fill="#000">SphereFace</text>
<path d="M925 943.08H956" stroke="#4BACC6" stroke-width="2.6" stroke-linecap="butt"/>
<text x="959.6" y="947.73" font-family='"Liberation Serif", serif' font-size="14.1" fill="#000">Center Loss</text>
<path d="M925 964.85H956" stroke="#F79646" stroke-width="2.6" stroke-linecap="butt"/>
<text x="959.6" y="969.5" font-family='"Liberation Serif", serif' font-size="14.1" fill="#000">Triplet Loss</text>
<path d="M925 986.62H956" stroke="#1F497D" stroke-width="2.6" stroke-linecap="butt"/>
<text x="959.6" y="991.27" font-family='"Liberation Serif", serif' font-size="14.1" fill="#000">Constrasitive Loss</text>
<text transform="translate(653.99 1142) scale(1.0875 1)" x="0" y="0" font-family='"Liberation Serif", serif' font-size="38.5" fill="#000">(d)</text>
<text transform="translate(721.13 1142) scale(1.1205 1)" x="0" y="0" font-family='"Liberation Serif", serif' font-size="38.5" fill="#000">ROC Under Small Protocol</text>
</svg></body></html>
